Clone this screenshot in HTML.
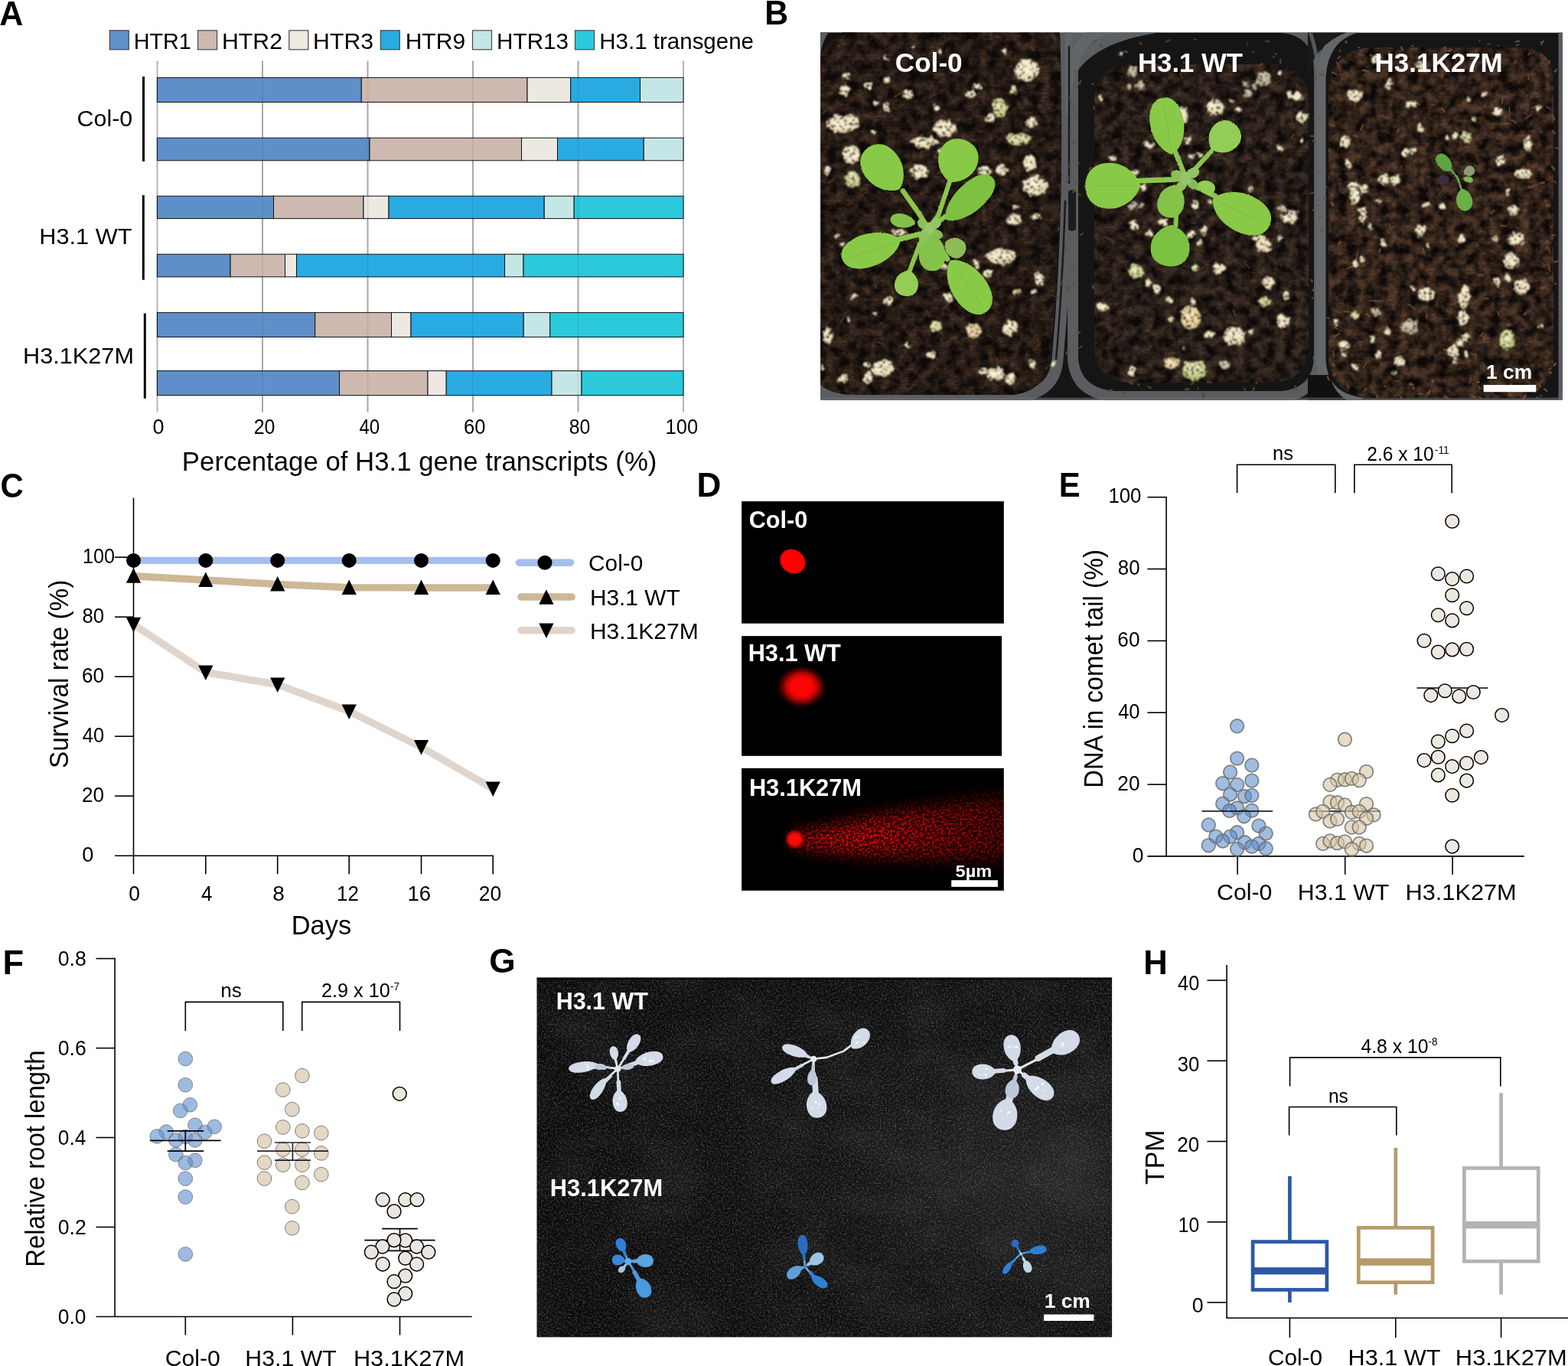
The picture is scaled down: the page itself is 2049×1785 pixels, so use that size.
<!DOCTYPE html>
<html lang="en">
<head>
<meta charset="utf-8">
<title>Figure: H3.1K27M expression, survival, comet assay, root length, staining and TPM</title>
<style>
html,body{margin:0;padding:0;background:#fff;}
body{width:2049px;height:1785px;overflow:hidden;}
svg{display:block;font-family:"Liberation Sans", "Helvetica", "Arial", sans-serif;}
text{font-kerning:normal;}
</style>
</head>
<body>
<svg width="2049" height="1785" viewBox="0 0 2049 1785" role="img" aria-label="Eight-panel figure A to H">
<rect width="2049" height="1785" fill="#fff"/>
<g id="panelA">
<text x="-0.67" y="32.70" font-size="44.3" textLength="31.09" lengthAdjust="spacingAndGlyphs" font-weight="bold">A</text>
<rect x="143.3" y="39.8" width="25.0" height="25.0" fill="#5f8fc9" stroke="#484848" stroke-width="1.2"/>
<text x="174.65" y="63.70" font-size="30.0" textLength="75.11" lengthAdjust="spacingAndGlyphs">HTR1</text>
<rect x="258.6" y="39.8" width="25.0" height="25.0" fill="#cdb9b0" stroke="#484848" stroke-width="1.2"/>
<text x="290.04" y="63.70" font-size="30.0" textLength="78.99" lengthAdjust="spacingAndGlyphs">HTR2</text>
<rect x="377.8" y="39.8" width="25.0" height="25.0" fill="#ede8e2" stroke="#484848" stroke-width="1.2"/>
<text x="409.14" y="63.70" font-size="30.0" textLength="78.88" lengthAdjust="spacingAndGlyphs">HTR3</text>
<rect x="497.3" y="39.8" width="25.0" height="25.0" fill="#29abe2" stroke="#484848" stroke-width="1.2"/>
<text x="529.65" y="63.70" font-size="30.0" textLength="78.57" lengthAdjust="spacingAndGlyphs">HTR9</text>
<rect x="617.5" y="39.8" width="25.0" height="25.0" fill="#c5e6e6" stroke="#484848" stroke-width="1.2"/>
<text x="649.08" y="63.70" font-size="30.0" textLength="94.02" lengthAdjust="spacingAndGlyphs">HTR13</text>
<rect x="751.5" y="39.8" width="25.0" height="25.0" fill="#2cc8dc" stroke="#484848" stroke-width="1.2"/>
<text x="783.30" y="63.70" font-size="30.0" textLength="201.70" lengthAdjust="spacingAndGlyphs">H3.1 transgene</text>
<line x1="205.5" y1="79.5" x2="205.5" y2="538.7" stroke="#b4b4b4" stroke-width="2"/>
<line x1="343.0" y1="79.5" x2="343.0" y2="538.7" stroke="#b4b4b4" stroke-width="2"/>
<line x1="480.5" y1="79.5" x2="480.5" y2="538.7" stroke="#b4b4b4" stroke-width="2"/>
<line x1="618.0" y1="79.5" x2="618.0" y2="538.7" stroke="#b4b4b4" stroke-width="2"/>
<line x1="755.5" y1="79.5" x2="755.5" y2="538.7" stroke="#b4b4b4" stroke-width="2"/>
<line x1="893.0" y1="79.5" x2="893.0" y2="538.7" stroke="#b4b4b4" stroke-width="2"/>
<rect x="205.5" y="101.4" width="266.8" height="32.1" fill="#5f8fc9" stroke="#111" stroke-width="1"/>
<rect x="472.3" y="101.4" width="216.7" height="32.1" fill="#cdb9b0" stroke="#111" stroke-width="1"/>
<rect x="689.0" y="101.4" width="56.7" height="32.1" fill="#ede8e2" stroke="#111" stroke-width="1"/>
<rect x="745.7" y="101.4" width="90.8" height="32.1" fill="#29abe2" stroke="#111" stroke-width="1"/>
<rect x="836.5" y="101.4" width="56.5" height="32.1" fill="#c5e6e6" stroke="#111" stroke-width="1"/>
<rect x="205.5" y="180.2" width="277.5" height="29.6" fill="#5f8fc9" stroke="#111" stroke-width="1"/>
<rect x="483.0" y="180.2" width="198.5" height="29.6" fill="#cdb9b0" stroke="#111" stroke-width="1"/>
<rect x="681.5" y="180.2" width="47.0" height="29.6" fill="#ede8e2" stroke="#111" stroke-width="1"/>
<rect x="728.5" y="180.2" width="112.7" height="29.6" fill="#29abe2" stroke="#111" stroke-width="1"/>
<rect x="841.2" y="180.2" width="51.8" height="29.6" fill="#c5e6e6" stroke="#111" stroke-width="1"/>
<rect x="205.5" y="256.2" width="152.0" height="29.4" fill="#5f8fc9" stroke="#111" stroke-width="1"/>
<rect x="357.5" y="256.2" width="117.5" height="29.4" fill="#cdb9b0" stroke="#111" stroke-width="1"/>
<rect x="475.0" y="256.2" width="33.0" height="29.4" fill="#ede8e2" stroke="#111" stroke-width="1"/>
<rect x="508.0" y="256.2" width="203.2" height="29.4" fill="#29abe2" stroke="#111" stroke-width="1"/>
<rect x="711.2" y="256.2" width="39.0" height="29.4" fill="#c5e6e6" stroke="#111" stroke-width="1"/>
<rect x="750.2" y="256.2" width="142.8" height="29.4" fill="#2cc8dc" stroke="#111" stroke-width="1"/>
<rect x="205.5" y="332.2" width="95.5" height="29.6" fill="#5f8fc9" stroke="#111" stroke-width="1"/>
<rect x="301.0" y="332.2" width="71.5" height="29.6" fill="#cdb9b0" stroke="#111" stroke-width="1"/>
<rect x="372.5" y="332.2" width="15.0" height="29.6" fill="#ede8e2" stroke="#111" stroke-width="1"/>
<rect x="387.5" y="332.2" width="272.0" height="29.6" fill="#29abe2" stroke="#111" stroke-width="1"/>
<rect x="659.5" y="332.2" width="24.5" height="29.6" fill="#c5e6e6" stroke="#111" stroke-width="1"/>
<rect x="684.0" y="332.2" width="209.0" height="29.6" fill="#2cc8dc" stroke="#111" stroke-width="1"/>
<rect x="205.5" y="408.4" width="206.2" height="32.0" fill="#5f8fc9" stroke="#111" stroke-width="1"/>
<rect x="411.7" y="408.4" width="99.8" height="32.0" fill="#cdb9b0" stroke="#111" stroke-width="1"/>
<rect x="511.5" y="408.4" width="25.5" height="32.0" fill="#ede8e2" stroke="#111" stroke-width="1"/>
<rect x="537.0" y="408.4" width="147.2" height="32.0" fill="#29abe2" stroke="#111" stroke-width="1"/>
<rect x="684.2" y="408.4" width="34.5" height="32.0" fill="#c5e6e6" stroke="#111" stroke-width="1"/>
<rect x="718.7" y="408.4" width="174.3" height="32.0" fill="#2cc8dc" stroke="#111" stroke-width="1"/>
<rect x="205.5" y="484.6" width="238.0" height="32.0" fill="#5f8fc9" stroke="#111" stroke-width="1"/>
<rect x="443.5" y="484.6" width="115.5" height="32.0" fill="#cdb9b0" stroke="#111" stroke-width="1"/>
<rect x="559.0" y="484.6" width="24.2" height="32.0" fill="#ede8e2" stroke="#111" stroke-width="1"/>
<rect x="583.2" y="484.6" width="137.8" height="32.0" fill="#29abe2" stroke="#111" stroke-width="1"/>
<rect x="721.0" y="484.6" width="39.0" height="32.0" fill="#c5e6e6" stroke="#111" stroke-width="1"/>
<rect x="760.0" y="484.6" width="133.0" height="32.0" fill="#2cc8dc" stroke="#111" stroke-width="1"/>
<line x1="343.0" y1="79.5" x2="343.0" y2="538.7" stroke="#000" stroke-width="2" opacity="0.06"/>
<line x1="480.5" y1="79.5" x2="480.5" y2="538.7" stroke="#000" stroke-width="2" opacity="0.06"/>
<line x1="618.0" y1="79.5" x2="618.0" y2="538.7" stroke="#000" stroke-width="2" opacity="0.06"/>
<line x1="755.5" y1="79.5" x2="755.5" y2="538.7" stroke="#000" stroke-width="2" opacity="0.06"/>
<line x1="187.5" y1="100.0" x2="187.5" y2="211.0" stroke="#000" stroke-width="3"/>
<line x1="187.3" y1="255.0" x2="187.3" y2="365.7" stroke="#000" stroke-width="3"/>
<line x1="189.3" y1="409.5" x2="189.3" y2="520.7" stroke="#000" stroke-width="3"/>
<text x="100.58" y="165.40" font-size="30.0" textLength="72.58" lengthAdjust="spacingAndGlyphs">Col-0</text>
<text x="51.30" y="319.20" font-size="30.0" textLength="121.12" lengthAdjust="spacingAndGlyphs">H3.1 WT</text>
<text x="30.10" y="475.00" font-size="30.0" textLength="144.86" lengthAdjust="spacingAndGlyphs">H3.1K27M</text>
<text x="199.56" y="567.30" font-size="27.0" textLength="15.02" lengthAdjust="spacingAndGlyphs">0</text>
<text x="331.63" y="567.30" font-size="27.0" textLength="27.79" lengthAdjust="spacingAndGlyphs">20</text>
<text x="469.42" y="567.30" font-size="27.0" textLength="26.78" lengthAdjust="spacingAndGlyphs">40</text>
<text x="606.10" y="567.30" font-size="27.0" textLength="28.43" lengthAdjust="spacingAndGlyphs">60</text>
<text x="743.82" y="567.30" font-size="27.0" textLength="27.59" lengthAdjust="spacingAndGlyphs">80</text>
<text x="869.61" y="567.30" font-size="27.0" textLength="42.42" lengthAdjust="spacingAndGlyphs">100</text>
<text x="237.88" y="614.90" font-size="34.3" textLength="620.52" lengthAdjust="spacingAndGlyphs">Percentage of H3.1 gene transcripts (%)</text>
</g>
<g id="panelB">
<text x="999.33" y="32.00" font-size="44.3" textLength="30.85" lengthAdjust="spacingAndGlyphs" font-weight="bold">B</text>
<defs>
<clipPath id="clipB"><rect x="1072.3" y="42.4" width="969.5" height="480.4"/></clipPath>
<clipPath id="soil1"><path d="M1116 34H1384Q1388 150 1386 250Q1382 360 1372 470Q1366 512 1322 516H1110Q1076 514 1060 490V98Q1076 52 1116 34Z"/></clipPath>
<clipPath id="soil2"><path d="M1478 84H1662Q1708 86 1710 132V452Q1708 498 1662 500H1478Q1432 498 1430 452V132Q1432 86 1478 84Z"/></clipPath>
<clipPath id="soil3"><path d="M1790 62H1990Q2028 64 2030 104V470Q2026 514 1986 520H1790Q1742 516 1736 470V120Q1740 66 1790 62Z"/></clipPath>
<filter id="fSoilD" x="0" y="0" width="100%" height="100%" filterUnits="objectBoundingBox" color-interpolation-filters="sRGB"><feTurbulence type="fractalNoise" baseFrequency="0.075" numOctaves="4" seed="11"/><feColorMatrix type="matrix" values="0 0 0 0 0.05  0 0 0 0 0.035  0 0 0 0 0.03  2.2 0 0 0 -0.62"/></filter>
<filter id="fSoilL" x="0" y="0" width="100%" height="100%" filterUnits="objectBoundingBox" color-interpolation-filters="sRGB"><feTurbulence type="turbulence" baseFrequency="0.11 0.2" numOctaves="3" seed="5"/><feColorMatrix type="matrix" values="0 0 0 0 0.36  0 0 0 0 0.25  0 0 0 0 0.18  0 3.0 0 0 -0.5"/></filter>
<filter id="fSpeck" x="0" y="0" width="100%" height="100%" filterUnits="objectBoundingBox" color-interpolation-filters="sRGB"><feTurbulence type="fractalNoise" baseFrequency="0.45" numOctaves="2" seed="23"/><feColorMatrix type="matrix" values="0 0 0 0 0.85  0 0 0 0 0.8  0 0 0 0 0.7  0 0 7 0 -4.9"/></filter>
<filter id="fRough" x="-5%" y="-5%" width="110%" height="110%" color-interpolation-filters="sRGB"><feTurbulence type="fractalNoise" baseFrequency="0.13" numOctaves="3" seed="4" result="t"/><feDisplacementMap in="SourceGraphic" in2="t" scale="9" xChannelSelector="R" yChannelSelector="G" result="d"/><feTurbulence type="fractalNoise" baseFrequency="0.28" numOctaves="3" seed="12" result="t2"/><feColorMatrix in="t2" type="matrix" values="0 0 0 0 0.2  0 0 0 0 0.14  0 0 0 0 0.1  0 5.5 0 0 -2.95" result="dirt"/><feComposite in="dirt" in2="d" operator="atop" result="dd"/><feGaussianBlur in="dd" stdDeviation="0.8"/></filter>
<filter id="fLeaf" x="-5%" y="-5%" width="110%" height="110%" color-interpolation-filters="sRGB"><feTurbulence type="fractalNoise" baseFrequency="0.5" numOctaves="1" seed="9" result="t"/><feDisplacementMap in="SourceGraphic" in2="t" scale="2.2" xChannelSelector="R" yChannelSelector="G" result="d"/><feGaussianBlur in="d" stdDeviation="0.45"/></filter>
<filter id="fBlur2"><feGaussianBlur stdDeviation="2"/></filter>
<filter id="fBlur5"><feGaussianBlur stdDeviation="5"/></filter>
<radialGradient id="gPer" cx="0.45" cy="0.4" r="0.65"><stop offset="0" stop-color="#fcf7dc"/><stop offset="0.7" stop-color="#f1e7c4"/><stop offset="1" stop-color="#cdbd96"/></radialGradient>
<radialGradient id="gPerG" cx="0.45" cy="0.4" r="0.65"><stop offset="0" stop-color="#eef0c4"/><stop offset="0.7" stop-color="#d3dc98"/><stop offset="1" stop-color="#a9b272"/></radialGradient>
<radialGradient id="gPerY" cx="0.45" cy="0.4" r="0.65"><stop offset="0" stop-color="#f8ebc6"/><stop offset="0.7" stop-color="#efd7a0"/><stop offset="1" stop-color="#c9a66c"/></radialGradient>
<radialGradient id="gPerD" cx="0.45" cy="0.4" r="0.65"><stop offset="0" stop-color="#d9d2bd"/><stop offset="0.7" stop-color="#bdb49a"/><stop offset="1" stop-color="#8c8470"/></radialGradient>
<linearGradient id="gLeaf" x1="0" y1="0" x2="1" y2="1"><stop offset="0" stop-color="#8fd04c"/><stop offset="1" stop-color="#74b93c"/></linearGradient>
</defs>
<g clip-path="url(#clipB)">
<rect x="1072.3" y="42.4" width="969.5" height="480.4" fill="#151515"/>
<path d="M1040 518H1330Q1378 514 1382 470Q1392 360 1394 250Q1396 150 1392 20" fill="none" stroke="#5a5c5f" stroke-width="15"/>
<path d="M1072 42H1112Q1084 50 1078 74Q1074 86 1072 100Z" fill="#141210" id="pot1corner"/>
<path d="M1072 42H1083Q1075 52 1072 72Z" fill="#5a5c5f"/>
<path d="M1072 492Q1078 512 1104 522H1072Z" fill="#5a5c5f"/>
<path d="M1462 36H1676Q1722 40 1724 92V470Q1720 514 1676 518H1456Q1406 514 1402 470V96Q1404 40 1462 36Z" fill="none" stroke="#5a5c5f" stroke-width="14"/>
<path d="M1392 42H1520Q1440 52 1410 90Q1398 110 1396 150L1392 150Z" fill="#64676a" opacity="0.9"/>
<path d="M1396 250Q1402 246 1406 250V300Q1400 304 1396 300Z" fill="#1c1c1c"/>
<path d="M1397 60V240M1392 262Q1388 380 1380 470" fill="none" stroke="#1b1b1b" stroke-width="2.5"/>
<path d="M1990 34H1786Q1730 40 1726 100V470Q1728 520 1780 526" fill="none" stroke="#64676a" stroke-width="13"/>
<path d="M1709 100Q1716 60 1760 42H1709Z" fill="#1a1a1a"/>
<path d="M1712 42Q1722 70 1724 110" fill="none" stroke="#64676a" stroke-width="5" opacity="0.8"/>
<rect x="2036.5" y="42" width="6" height="481" fill="#5a5c5f"/>
<path d="M1709 490H1738Q1742 512 1760 523H1709Z" fill="#101010"/>
<rect x="1072.3" y="519.5" width="969.5" height="4" fill="#6d6f72" opacity="0.55"/>
<g clip-path="url(#soil1)">
<rect x="1060" y="30" width="335" height="500" fill="#30241c"/>
<rect x="1060" y="30" width="335" height="500" filter="url(#fSoilL)" opacity="0.5"/>
<rect x="1060" y="30" width="335" height="500" filter="url(#fSoilD)"/>
<rect x="1060" y="30" width="335" height="500" filter="url(#fSpeck)" opacity="0.12"/>
</g>
<g clip-path="url(#soil2)">
<rect x="1425" y="30" width="290" height="500" fill="#352a23"/>
<rect x="1425" y="30" width="290" height="500" filter="url(#fSoilL)" opacity="0.5"/>
<rect x="1425" y="30" width="290" height="500" filter="url(#fSoilD)"/>
<rect x="1425" y="30" width="290" height="500" filter="url(#fSpeck)" opacity="0.12"/>
</g>
<g clip-path="url(#soil3)">
<rect x="1730" y="30" width="305" height="500" fill="#453125"/>
<rect x="1730" y="30" width="305" height="500" filter="url(#fSoilL)" opacity="0.85"/>
<rect x="1730" y="30" width="305" height="500" filter="url(#fSoilD)"/>
<rect x="1730" y="30" width="305" height="500" filter="url(#fSpeck)" opacity="0.12"/>
</g>
<g opacity="0.85" filter="url(#fLeaf)"><line x1="1406.3" y1="151.8" x2="1405.5" y2="153.4" stroke="#6a4a33" stroke-width="2.3" stroke-linecap="round"/><line x1="1407.8" y1="113.8" x2="1407.8" y2="115.4" stroke="#6a4a33" stroke-width="2.1" stroke-linecap="round"/><line x1="1397.4" y1="127.2" x2="1398.5" y2="131.5" stroke="#6a4a33" stroke-width="1.6" stroke-linecap="round"/><line x1="1402.8" y1="347.2" x2="1399.3" y2="347.8" stroke="#6a4a33" stroke-width="2.0" stroke-linecap="round"/><line x1="1429.2" y1="109.1" x2="1426.9" y2="110.2" stroke="#6a4a33" stroke-width="1.6" stroke-linecap="round"/><line x1="1399.1" y1="216.5" x2="1397.3" y2="217.6" stroke="#6a4a33" stroke-width="2.3" stroke-linecap="round"/><line x1="1417.4" y1="242.7" x2="1417.1" y2="244.4" stroke="#6a4a33" stroke-width="1.5" stroke-linecap="round"/><line x1="1402.2" y1="369.0" x2="1402.8" y2="371.5" stroke="#6a4a33" stroke-width="2.3" stroke-linecap="round"/><line x1="1410.9" y1="212.9" x2="1407.7" y2="215.3" stroke="#6a4a33" stroke-width="1.8" stroke-linecap="round"/><line x1="1415.1" y1="305.3" x2="1411.4" y2="306.9" stroke="#6a4a33" stroke-width="1.9" stroke-linecap="round"/><line x1="1429.3" y1="138.4" x2="1430.4" y2="142.4" stroke="#6a4a33" stroke-width="1.6" stroke-linecap="round"/><line x1="1412.1" y1="106.1" x2="1410.0" y2="109.7" stroke="#6a4a33" stroke-width="2.3" stroke-linecap="round"/><line x1="1425.6" y1="218.6" x2="1423.6" y2="221.6" stroke="#6a4a33" stroke-width="2.3" stroke-linecap="round"/><line x1="1411.0" y1="434.4" x2="1407.9" y2="434.9" stroke="#6a4a33" stroke-width="2.5" stroke-linecap="round"/><line x1="1397.1" y1="377.6" x2="1394.9" y2="382.1" stroke="#6a4a33" stroke-width="2.7" stroke-linecap="round"/><line x1="1405.0" y1="248.2" x2="1404.2" y2="249.5" stroke="#6a4a33" stroke-width="2.1" stroke-linecap="round"/><line x1="1400.9" y1="138.0" x2="1405.0" y2="138.8" stroke="#6a4a33" stroke-width="1.6" stroke-linecap="round"/><line x1="1403.7" y1="250.3" x2="1402.0" y2="251.0" stroke="#6a4a33" stroke-width="2.1" stroke-linecap="round"/><line x1="1414.2" y1="452.2" x2="1410.4" y2="454.6" stroke="#6a4a33" stroke-width="1.8" stroke-linecap="round"/><line x1="1409.5" y1="237.1" x2="1405.0" y2="238.8" stroke="#6a4a33" stroke-width="1.6" stroke-linecap="round"/><line x1="1401.2" y1="185.1" x2="1403.5" y2="187.2" stroke="#6a4a33" stroke-width="2.3" stroke-linecap="round"/><line x1="1404.2" y1="91.7" x2="1404.9" y2="94.4" stroke="#6a4a33" stroke-width="2.3" stroke-linecap="round"/><line x1="1428.4" y1="373.1" x2="1428.2" y2="376.8" stroke="#6a4a33" stroke-width="2.5" stroke-linecap="round"/><line x1="1396.9" y1="458.8" x2="1393.4" y2="461.7" stroke="#6a4a33" stroke-width="2.7" stroke-linecap="round"/><line x1="1408.7" y1="253.6" x2="1412.3" y2="254.8" stroke="#6a4a33" stroke-width="1.5" stroke-linecap="round"/><line x1="1397.4" y1="175.6" x2="1399.7" y2="176.9" stroke="#6a4a33" stroke-width="1.5" stroke-linecap="round"/><line x1="1430.1" y1="53.4" x2="1432.7" y2="54.3" stroke="#5e412d" stroke-width="1.4" stroke-linecap="round"/><line x1="1666.1" y1="70.1" x2="1668.2" y2="71.2" stroke="#5e412d" stroke-width="2.0" stroke-linecap="round"/><line x1="1528.3" y1="52.4" x2="1523.9" y2="54.7" stroke="#5e412d" stroke-width="2.1" stroke-linecap="round"/><line x1="1560.6" y1="51.1" x2="1563.2" y2="51.9" stroke="#5e412d" stroke-width="1.8" stroke-linecap="round"/><line x1="1653.8" y1="53.8" x2="1658.6" y2="54.2" stroke="#5e412d" stroke-width="2.2" stroke-linecap="round"/><line x1="1469.6" y1="67.6" x2="1472.9" y2="67.8" stroke="#5e412d" stroke-width="3.0" stroke-linecap="round"/><line x1="1663.1" y1="73.1" x2="1665.0" y2="75.1" stroke="#5e412d" stroke-width="1.7" stroke-linecap="round"/><line x1="1638.4" y1="67.2" x2="1636.4" y2="68.9" stroke="#5e412d" stroke-width="1.8" stroke-linecap="round"/><line x1="1649.1" y1="83.5" x2="1645.2" y2="85.4" stroke="#5e412d" stroke-width="2.7" stroke-linecap="round"/><line x1="1629.8" y1="56.2" x2="1629.6" y2="58.9" stroke="#5e412d" stroke-width="1.4" stroke-linecap="round"/><line x1="1437.5" y1="58.1" x2="1440.2" y2="60.9" stroke="#5e412d" stroke-width="2.9" stroke-linecap="round"/><line x1="1550.8" y1="81.7" x2="1545.9" y2="81.9" stroke="#5e412d" stroke-width="2.0" stroke-linecap="round"/><line x1="1489.5" y1="56.2" x2="1491.3" y2="57.4" stroke="#5e412d" stroke-width="2.4" stroke-linecap="round"/><line x1="1673.1" y1="78.3" x2="1673.3" y2="82.0" stroke="#5e412d" stroke-width="2.7" stroke-linecap="round"/><line x1="1452.9" y1="509.6" x2="1448.8" y2="510.7" stroke="#5e412d" stroke-width="2.6" stroke-linecap="round"/><line x1="1559.1" y1="500.4" x2="1557.0" y2="502.0" stroke="#5e412d" stroke-width="2.7" stroke-linecap="round"/><line x1="1692.3" y1="504.5" x2="1693.8" y2="509.1" stroke="#5e412d" stroke-width="2.6" stroke-linecap="round"/><line x1="1475.9" y1="499.4" x2="1480.1" y2="501.5" stroke="#5e412d" stroke-width="2.7" stroke-linecap="round"/><line x1="1469.5" y1="512.7" x2="1465.7" y2="512.9" stroke="#5e412d" stroke-width="2.0" stroke-linecap="round"/><line x1="1578.1" y1="499.5" x2="1583.0" y2="499.7" stroke="#5e412d" stroke-width="2.4" stroke-linecap="round"/><line x1="1572.2" y1="514.7" x2="1573.1" y2="519.2" stroke="#5e412d" stroke-width="2.7" stroke-linecap="round"/><line x1="1487.0" y1="501.8" x2="1488.4" y2="503.6" stroke="#5e412d" stroke-width="2.3" stroke-linecap="round"/><line x1="1500.0" y1="505.0" x2="1504.3" y2="506.8" stroke="#5e412d" stroke-width="2.0" stroke-linecap="round"/><line x1="1553.7" y1="508.1" x2="1550.9" y2="509.0" stroke="#5e412d" stroke-width="2.9" stroke-linecap="round"/><line x1="1565.4" y1="507.1" x2="1565.3" y2="508.7" stroke="#5e412d" stroke-width="2.1" stroke-linecap="round"/><line x1="1479.4" y1="497.1" x2="1477.7" y2="498.3" stroke="#5e412d" stroke-width="2.2" stroke-linecap="round"/><line x1="1625.8" y1="507.6" x2="1627.5" y2="510.4" stroke="#5e412d" stroke-width="2.3" stroke-linecap="round"/><line x1="1641.8" y1="499.0" x2="1641.3" y2="501.3" stroke="#5e412d" stroke-width="1.8" stroke-linecap="round"/><line x1="1638.5" y1="506.6" x2="1637.7" y2="510.7" stroke="#5e412d" stroke-width="2.9" stroke-linecap="round"/><line x1="1549.7" y1="508.6" x2="1549.6" y2="511.9" stroke="#5e412d" stroke-width="2.5" stroke-linecap="round"/><line x1="1726.9" y1="299.3" x2="1727.3" y2="304.1" stroke="#6f4e36" stroke-width="2.5" stroke-linecap="round"/><line x1="1740.9" y1="475.1" x2="1743.3" y2="477.7" stroke="#6f4e36" stroke-width="2.9" stroke-linecap="round"/><line x1="1739.7" y1="129.0" x2="1742.5" y2="130.1" stroke="#6f4e36" stroke-width="1.5" stroke-linecap="round"/><line x1="1719.9" y1="101.4" x2="1717.8" y2="105.1" stroke="#6f4e36" stroke-width="2.8" stroke-linecap="round"/><line x1="1717.1" y1="377.9" x2="1716.1" y2="379.7" stroke="#6f4e36" stroke-width="2.8" stroke-linecap="round"/><line x1="1743.9" y1="164.4" x2="1741.1" y2="164.9" stroke="#6f4e36" stroke-width="2.2" stroke-linecap="round"/><line x1="1744.7" y1="428.0" x2="1747.3" y2="429.4" stroke="#6f4e36" stroke-width="2.2" stroke-linecap="round"/><line x1="1723.2" y1="154.2" x2="1725.4" y2="157.6" stroke="#6f4e36" stroke-width="1.4" stroke-linecap="round"/><line x1="1730.3" y1="259.4" x2="1732.9" y2="259.5" stroke="#6f4e36" stroke-width="2.4" stroke-linecap="round"/><line x1="1728.9" y1="97.6" x2="1724.7" y2="97.8" stroke="#6f4e36" stroke-width="3.0" stroke-linecap="round"/><line x1="1715.5" y1="184.2" x2="1719.7" y2="184.7" stroke="#6f4e36" stroke-width="1.8" stroke-linecap="round"/><line x1="1716.3" y1="251.6" x2="1712.1" y2="252.8" stroke="#6f4e36" stroke-width="1.8" stroke-linecap="round"/><line x1="1716.9" y1="465.2" x2="1716.1" y2="469.1" stroke="#6f4e36" stroke-width="1.5" stroke-linecap="round"/><line x1="1713.9" y1="365.9" x2="1714.3" y2="367.6" stroke="#6f4e36" stroke-width="2.9" stroke-linecap="round"/><line x1="1732.9" y1="414.7" x2="1737.3" y2="415.9" stroke="#6f4e36" stroke-width="1.5" stroke-linecap="round"/><line x1="1740.5" y1="265.1" x2="1742.1" y2="268.1" stroke="#6f4e36" stroke-width="2.9" stroke-linecap="round"/><line x1="1720.8" y1="125.6" x2="1720.6" y2="127.9" stroke="#6f4e36" stroke-width="1.6" stroke-linecap="round"/><line x1="1717.3" y1="91.7" x2="1719.4" y2="93.2" stroke="#6f4e36" stroke-width="1.9" stroke-linecap="round"/><line x1="1737.1" y1="194.7" x2="1737.1" y2="196.8" stroke="#6f4e36" stroke-width="2.0" stroke-linecap="round"/><line x1="1712.6" y1="177.7" x2="1716.7" y2="177.9" stroke="#6f4e36" stroke-width="2.3" stroke-linecap="round"/><line x1="1718.3" y1="274.1" x2="1716.4" y2="274.5" stroke="#6f4e36" stroke-width="2.7" stroke-linecap="round"/><line x1="1726.3" y1="282.9" x2="1723.8" y2="284.3" stroke="#6f4e36" stroke-width="2.2" stroke-linecap="round"/><line x1="1734.7" y1="492.4" x2="1736.8" y2="496.3" stroke="#6f4e36" stroke-width="2.5" stroke-linecap="round"/><line x1="1733.0" y1="244.0" x2="1733.8" y2="245.5" stroke="#6f4e36" stroke-width="1.6" stroke-linecap="round"/><line x1="1714.3" y1="388.6" x2="1715.8" y2="390.1" stroke="#6f4e36" stroke-width="1.5" stroke-linecap="round"/><line x1="1739.8" y1="444.3" x2="1738.5" y2="446.5" stroke="#6f4e36" stroke-width="1.8" stroke-linecap="round"/><line x1="1721.7" y1="267.6" x2="1724.4" y2="269.0" stroke="#6f4e36" stroke-width="1.8" stroke-linecap="round"/><line x1="1743.7" y1="488.2" x2="1743.4" y2="490.6" stroke="#6f4e36" stroke-width="2.9" stroke-linecap="round"/><line x1="1722.2" y1="223.3" x2="1725.1" y2="223.3" stroke="#6f4e36" stroke-width="2.2" stroke-linecap="round"/><line x1="1728.6" y1="156.4" x2="1728.6" y2="157.9" stroke="#6f4e36" stroke-width="1.8" stroke-linecap="round"/><line x1="1775.1" y1="62.0" x2="1776.7" y2="62.2" stroke="#6f4e36" stroke-width="1.9" stroke-linecap="round"/><line x1="1815.2" y1="67.6" x2="1814.8" y2="71.7" stroke="#6f4e36" stroke-width="2.5" stroke-linecap="round"/><line x1="1950.5" y1="76.4" x2="1951.4" y2="78.9" stroke="#6f4e36" stroke-width="3.0" stroke-linecap="round"/><line x1="1791.8" y1="71.7" x2="1791.1" y2="73.2" stroke="#6f4e36" stroke-width="2.7" stroke-linecap="round"/><line x1="1999.7" y1="68.8" x2="1996.8" y2="72.0" stroke="#6f4e36" stroke-width="1.6" stroke-linecap="round"/><line x1="1896.7" y1="65.1" x2="1892.9" y2="67.3" stroke="#6f4e36" stroke-width="2.7" stroke-linecap="round"/><line x1="1913.5" y1="76.8" x2="1911.4" y2="80.1" stroke="#6f4e36" stroke-width="1.8" stroke-linecap="round"/><line x1="1758.7" y1="54.0" x2="1759.5" y2="55.7" stroke="#6f4e36" stroke-width="2.7" stroke-linecap="round"/><line x1="1906.4" y1="68.8" x2="1904.9" y2="72.4" stroke="#6f4e36" stroke-width="2.2" stroke-linecap="round"/><line x1="1750.9" y1="73.9" x2="1748.6" y2="76.2" stroke="#6f4e36" stroke-width="2.3" stroke-linecap="round"/><line x1="1934.6" y1="52.0" x2="1933.0" y2="53.7" stroke="#6f4e36" stroke-width="1.5" stroke-linecap="round"/><line x1="1824.4" y1="71.9" x2="1827.6" y2="74.3" stroke="#6f4e36" stroke-width="3.0" stroke-linecap="round"/><line x1="1888.3" y1="61.5" x2="1888.6" y2="65.4" stroke="#6f4e36" stroke-width="2.6" stroke-linecap="round"/><line x1="1922.8" y1="69.3" x2="1924.7" y2="69.8" stroke="#6f4e36" stroke-width="1.8" stroke-linecap="round"/><line x1="1958.1" y1="59.1" x2="1957.8" y2="60.6" stroke="#6f4e36" stroke-width="1.5" stroke-linecap="round"/><line x1="1825.3" y1="70.2" x2="1823.1" y2="73.3" stroke="#6f4e36" stroke-width="1.9" stroke-linecap="round"/><line x1="1894.6" y1="63.9" x2="1894.8" y2="65.8" stroke="#6f4e36" stroke-width="2.8" stroke-linecap="round"/><line x1="1805.8" y1="79.3" x2="1804.3" y2="79.7" stroke="#6f4e36" stroke-width="2.1" stroke-linecap="round"/><line x1="1979.6" y1="79.0" x2="1980.0" y2="81.5" stroke="#6f4e36" stroke-width="1.7" stroke-linecap="round"/><line x1="2014.8" y1="56.3" x2="2014.3" y2="58.3" stroke="#6f4e36" stroke-width="2.2" stroke-linecap="round"/><line x1="2016.8" y1="54.0" x2="2014.0" y2="55.7" stroke="#6f4e36" stroke-width="2.8" stroke-linecap="round"/><line x1="1946.9" y1="56.9" x2="1943.9" y2="58.0" stroke="#6f4e36" stroke-width="1.4" stroke-linecap="round"/><line x1="1751.0" y1="64.8" x2="1751.4" y2="67.3" stroke="#6f4e36" stroke-width="1.6" stroke-linecap="round"/><line x1="1846.3" y1="59.5" x2="1845.0" y2="60.2" stroke="#6f4e36" stroke-width="2.6" stroke-linecap="round"/><line x1="1985.0" y1="53.6" x2="1981.1" y2="54.5" stroke="#6f4e36" stroke-width="2.8" stroke-linecap="round"/><line x1="1831.2" y1="61.2" x2="1832.8" y2="65.9" stroke="#6f4e36" stroke-width="2.3" stroke-linecap="round"/><line x1="1851.0" y1="62.8" x2="1852.1" y2="64.1" stroke="#6f4e36" stroke-width="1.6" stroke-linecap="round"/><line x1="1983.7" y1="58.6" x2="1981.4" y2="59.0" stroke="#6f4e36" stroke-width="1.8" stroke-linecap="round"/><line x1="2029.2" y1="151.6" x2="2031.1" y2="156.1" stroke="#6f4e36" stroke-width="2.8" stroke-linecap="round"/><line x1="2035.9" y1="341.3" x2="2031.2" y2="342.6" stroke="#6f4e36" stroke-width="2.3" stroke-linecap="round"/><line x1="2033.8" y1="91.3" x2="2031.8" y2="93.6" stroke="#6f4e36" stroke-width="2.6" stroke-linecap="round"/><line x1="2032.2" y1="193.1" x2="2036.9" y2="193.8" stroke="#6f4e36" stroke-width="1.6" stroke-linecap="round"/><line x1="2028.4" y1="217.8" x2="2030.8" y2="221.1" stroke="#6f4e36" stroke-width="3.0" stroke-linecap="round"/><line x1="2023.7" y1="352.1" x2="2025.7" y2="354.9" stroke="#6f4e36" stroke-width="2.0" stroke-linecap="round"/><line x1="2021.7" y1="139.5" x2="2025.4" y2="142.4" stroke="#6f4e36" stroke-width="2.2" stroke-linecap="round"/><line x1="2022.8" y1="459.7" x2="2019.8" y2="459.7" stroke="#6f4e36" stroke-width="1.6" stroke-linecap="round"/><line x1="2022.2" y1="109.0" x2="2023.1" y2="110.6" stroke="#6f4e36" stroke-width="1.8" stroke-linecap="round"/><line x1="2023.7" y1="314.9" x2="2019.8" y2="316.4" stroke="#6f4e36" stroke-width="2.1" stroke-linecap="round"/><line x1="2027.1" y1="295.4" x2="2028.1" y2="297.9" stroke="#6f4e36" stroke-width="1.5" stroke-linecap="round"/><line x1="2024.1" y1="486.1" x2="2027.1" y2="487.4" stroke="#6f4e36" stroke-width="2.4" stroke-linecap="round"/><line x1="2037.0" y1="162.9" x2="2038.5" y2="164.6" stroke="#6f4e36" stroke-width="2.0" stroke-linecap="round"/><line x1="2027.8" y1="480.2" x2="2023.8" y2="482.3" stroke="#6f4e36" stroke-width="1.4" stroke-linecap="round"/><line x1="2018.7" y1="375.1" x2="2015.7" y2="376.1" stroke="#6f4e36" stroke-width="2.3" stroke-linecap="round"/><line x1="2018.0" y1="238.4" x2="2013.7" y2="239.4" stroke="#6f4e36" stroke-width="2.8" stroke-linecap="round"/><line x1="2039.4" y1="176.8" x2="2041.3" y2="177.5" stroke="#6f4e36" stroke-width="2.2" stroke-linecap="round"/><line x1="2033.0" y1="474.8" x2="2030.6" y2="477.7" stroke="#6f4e36" stroke-width="2.6" stroke-linecap="round"/><line x1="2028.1" y1="307.1" x2="2032.3" y2="307.7" stroke="#6f4e36" stroke-width="1.8" stroke-linecap="round"/><line x1="2038.2" y1="347.6" x2="2039.4" y2="349.2" stroke="#6f4e36" stroke-width="1.8" stroke-linecap="round"/><line x1="2032.0" y1="370.4" x2="2033.6" y2="371.0" stroke="#6f4e36" stroke-width="2.2" stroke-linecap="round"/><line x1="2030.8" y1="236.9" x2="2033.6" y2="239.2" stroke="#6f4e36" stroke-width="1.4" stroke-linecap="round"/><line x1="2024.6" y1="268.1" x2="2020.9" y2="268.6" stroke="#6f4e36" stroke-width="2.8" stroke-linecap="round"/><line x1="2028.5" y1="171.0" x2="2031.9" y2="174.4" stroke="#6f4e36" stroke-width="2.5" stroke-linecap="round"/><line x1="2024.8" y1="79.4" x2="2024.8" y2="83.2" stroke="#6f4e36" stroke-width="2.1" stroke-linecap="round"/><line x1="2023.7" y1="357.0" x2="2021.4" y2="357.5" stroke="#6f4e36" stroke-width="1.5" stroke-linecap="round"/><line x1="1847.9" y1="506.1" x2="1846.7" y2="507.9" stroke="#74523a" stroke-width="2.7" stroke-linecap="round"/><line x1="1952.2" y1="508.1" x2="1956.1" y2="511.1" stroke="#74523a" stroke-width="1.9" stroke-linecap="round"/><line x1="1973.2" y1="501.5" x2="1976.4" y2="504.2" stroke="#74523a" stroke-width="1.9" stroke-linecap="round"/><line x1="2007.5" y1="507.9" x2="2009.4" y2="509.2" stroke="#74523a" stroke-width="2.1" stroke-linecap="round"/><line x1="1933.0" y1="518.8" x2="1935.6" y2="520.0" stroke="#74523a" stroke-width="1.7" stroke-linecap="round"/><line x1="2013.3" y1="499.4" x2="2015.0" y2="499.7" stroke="#74523a" stroke-width="2.0" stroke-linecap="round"/><line x1="1993.5" y1="517.2" x2="1990.2" y2="520.9" stroke="#74523a" stroke-width="2.9" stroke-linecap="round"/><line x1="1845.6" y1="500.5" x2="1841.6" y2="501.3" stroke="#74523a" stroke-width="1.5" stroke-linecap="round"/><line x1="1932.8" y1="505.1" x2="1933.8" y2="507.5" stroke="#74523a" stroke-width="1.7" stroke-linecap="round"/><line x1="1760.7" y1="502.7" x2="1762.9" y2="507.0" stroke="#74523a" stroke-width="1.6" stroke-linecap="round"/><line x1="2010.7" y1="501.0" x2="2012.6" y2="504.9" stroke="#74523a" stroke-width="2.7" stroke-linecap="round"/><line x1="1872.4" y1="497.2" x2="1872.7" y2="500.0" stroke="#74523a" stroke-width="2.9" stroke-linecap="round"/><line x1="1810.2" y1="504.7" x2="1808.7" y2="505.3" stroke="#74523a" stroke-width="2.1" stroke-linecap="round"/><line x1="1971.1" y1="514.4" x2="1972.7" y2="514.6" stroke="#74523a" stroke-width="1.5" stroke-linecap="round"/><line x1="1999.2" y1="502.2" x2="1996.0" y2="505.5" stroke="#74523a" stroke-width="1.9" stroke-linecap="round"/><line x1="1830.8" y1="519.0" x2="1829.9" y2="521.2" stroke="#74523a" stroke-width="2.5" stroke-linecap="round"/><line x1="1842.3" y1="502.6" x2="1846.4" y2="502.7" stroke="#74523a" stroke-width="2.9" stroke-linecap="round"/><line x1="1924.8" y1="518.6" x2="1927.1" y2="518.8" stroke="#74523a" stroke-width="2.2" stroke-linecap="round"/><line x1="2008.8" y1="518.9" x2="2009.6" y2="521.1" stroke="#74523a" stroke-width="2.1" stroke-linecap="round"/><line x1="1888.3" y1="518.3" x2="1891.9" y2="520.6" stroke="#74523a" stroke-width="2.6" stroke-linecap="round"/><line x1="1973.9" y1="514.5" x2="1973.0" y2="517.0" stroke="#74523a" stroke-width="1.9" stroke-linecap="round"/><line x1="1854.1" y1="514.8" x2="1856.2" y2="515.3" stroke="#74523a" stroke-width="2.6" stroke-linecap="round"/><line x1="1824.3" y1="497.6" x2="1827.7" y2="497.9" stroke="#74523a" stroke-width="1.9" stroke-linecap="round"/><line x1="2014.9" y1="517.2" x2="2012.4" y2="517.3" stroke="#74523a" stroke-width="1.5" stroke-linecap="round"/><line x1="1785.1" y1="508.0" x2="1783.2" y2="510.4" stroke="#74523a" stroke-width="1.8" stroke-linecap="round"/><line x1="1868.4" y1="510.9" x2="1866.2" y2="514.4" stroke="#74523a" stroke-width="2.8" stroke-linecap="round"/><line x1="1932.8" y1="498.9" x2="1930.5" y2="500.1" stroke="#74523a" stroke-width="2.3" stroke-linecap="round"/><line x1="1857.0" y1="513.7" x2="1858.9" y2="515.1" stroke="#74523a" stroke-width="1.8" stroke-linecap="round"/><line x1="1799.9" y1="517.2" x2="1799.2" y2="519.8" stroke="#74523a" stroke-width="2.0" stroke-linecap="round"/><line x1="2018.0" y1="508.2" x2="2021.3" y2="511.1" stroke="#74523a" stroke-width="2.4" stroke-linecap="round"/><line x1="1395.9" y1="230.7" x2="1396.2" y2="235.1" stroke="#6a4a33" stroke-width="2.7" stroke-linecap="round"/><line x1="1395.0" y1="212.1" x2="1396.1" y2="213.6" stroke="#6a4a33" stroke-width="1.7" stroke-linecap="round"/><line x1="1395.7" y1="375.0" x2="1392.9" y2="375.6" stroke="#6a4a33" stroke-width="2.8" stroke-linecap="round"/><line x1="1389.4" y1="278.0" x2="1385.7" y2="281.1" stroke="#6a4a33" stroke-width="1.6" stroke-linecap="round"/><line x1="1391.2" y1="386.0" x2="1393.3" y2="387.7" stroke="#6a4a33" stroke-width="1.6" stroke-linecap="round"/><line x1="1386.4" y1="276.5" x2="1385.3" y2="280.1" stroke="#6a4a33" stroke-width="1.7" stroke-linecap="round"/><line x1="1384.1" y1="298.2" x2="1383.0" y2="300.0" stroke="#6a4a33" stroke-width="1.9" stroke-linecap="round"/><line x1="1386.4" y1="438.6" x2="1386.2" y2="440.3" stroke="#6a4a33" stroke-width="1.6" stroke-linecap="round"/><line x1="1388.7" y1="365.0" x2="1388.0" y2="366.7" stroke="#6a4a33" stroke-width="1.7" stroke-linecap="round"/><line x1="1392.3" y1="322.9" x2="1394.0" y2="324.9" stroke="#6a4a33" stroke-width="2.9" stroke-linecap="round"/><line x1="1387.7" y1="370.0" x2="1389.0" y2="372.6" stroke="#6a4a33" stroke-width="2.8" stroke-linecap="round"/><line x1="1396.0" y1="309.1" x2="1399.3" y2="311.5" stroke="#6a4a33" stroke-width="1.7" stroke-linecap="round"/><line x1="1741.7" y1="458.7" x2="1743.6" y2="466.4" stroke="#6b4a32" stroke-width="2.0" stroke-linecap="round"/><line x1="1991.6" y1="273.6" x2="1994.3" y2="275.1" stroke="#6b4a32" stroke-width="2.3" stroke-linecap="round"/><line x1="1922.6" y1="462.1" x2="1929.1" y2="464.0" stroke="#6b4a32" stroke-width="2.0" stroke-linecap="round"/><line x1="1883.8" y1="141.3" x2="1887.6" y2="146.0" stroke="#6b4a32" stroke-width="2.9" stroke-linecap="round"/><line x1="1771.0" y1="286.0" x2="1763.8" y2="291.1" stroke="#6b4a32" stroke-width="1.7" stroke-linecap="round"/><line x1="1776.1" y1="476.1" x2="1770.2" y2="476.5" stroke="#6b4a32" stroke-width="1.5" stroke-linecap="round"/><line x1="2004.0" y1="242.9" x2="1997.5" y2="244.9" stroke="#6b4a32" stroke-width="2.7" stroke-linecap="round"/><line x1="1785.7" y1="410.0" x2="1789.8" y2="413.5" stroke="#6b4a32" stroke-width="2.8" stroke-linecap="round"/><line x1="1976.3" y1="156.8" x2="1980.5" y2="160.3" stroke="#6b4a32" stroke-width="2.2" stroke-linecap="round"/><line x1="1849.3" y1="131.7" x2="1854.6" y2="136.8" stroke="#6b4a32" stroke-width="2.8" stroke-linecap="round"/><line x1="1751.7" y1="316.2" x2="1749.4" y2="318.4" stroke="#6b4a32" stroke-width="2.7" stroke-linecap="round"/><line x1="1773.6" y1="331.8" x2="1772.5" y2="338.5" stroke="#6b4a32" stroke-width="1.9" stroke-linecap="round"/><line x1="1859.7" y1="324.7" x2="1861.3" y2="331.5" stroke="#6b4a32" stroke-width="2.1" stroke-linecap="round"/><line x1="1864.9" y1="89.8" x2="1862.8" y2="95.3" stroke="#6b4a32" stroke-width="1.8" stroke-linecap="round"/><line x1="1957.6" y1="407.6" x2="1958.1" y2="411.6" stroke="#6b4a32" stroke-width="2.2" stroke-linecap="round"/><line x1="1770.5" y1="134.0" x2="1771.3" y2="137.4" stroke="#6b4a32" stroke-width="2.1" stroke-linecap="round"/><line x1="1885.4" y1="97.1" x2="1883.9" y2="100.3" stroke="#6b4a32" stroke-width="2.6" stroke-linecap="round"/><line x1="1961.6" y1="294.8" x2="1967.6" y2="295.8" stroke="#6b4a32" stroke-width="2.0" stroke-linecap="round"/><line x1="2011.0" y1="137.2" x2="2002.9" y2="141.1" stroke="#6b4a32" stroke-width="2.6" stroke-linecap="round"/><line x1="1972.3" y1="161.4" x2="1966.3" y2="161.7" stroke="#6b4a32" stroke-width="2.9" stroke-linecap="round"/><line x1="2001.1" y1="149.3" x2="1994.3" y2="154.6" stroke="#6b4a32" stroke-width="1.5" stroke-linecap="round"/><line x1="1840.0" y1="397.6" x2="1847.4" y2="401.6" stroke="#6b4a32" stroke-width="1.8" stroke-linecap="round"/><line x1="1972.5" y1="140.3" x2="1972.4" y2="148.8" stroke="#6b4a32" stroke-width="1.7" stroke-linecap="round"/><line x1="1814.9" y1="292.5" x2="1816.7" y2="295.2" stroke="#6b4a32" stroke-width="1.7" stroke-linecap="round"/><line x1="1786.0" y1="473.3" x2="1781.5" y2="480.4" stroke="#6b4a32" stroke-width="1.7" stroke-linecap="round"/><line x1="1963.7" y1="128.3" x2="1963.0" y2="135.1" stroke="#6b4a32" stroke-width="2.0" stroke-linecap="round"/><line x1="1988.8" y1="313.2" x2="1986.7" y2="321.2" stroke="#6b4a32" stroke-width="1.6" stroke-linecap="round"/><line x1="2023.0" y1="344.5" x2="2025.5" y2="351.9" stroke="#6b4a32" stroke-width="1.8" stroke-linecap="round"/><line x1="2022.3" y1="322.5" x2="2025.5" y2="329.4" stroke="#6b4a32" stroke-width="2.1" stroke-linecap="round"/><line x1="1790.4" y1="392.3" x2="1798.2" y2="393.5" stroke="#6b4a32" stroke-width="1.8" stroke-linecap="round"/><line x1="1922.2" y1="493.3" x2="1920.3" y2="500.0" stroke="#6b4a32" stroke-width="1.9" stroke-linecap="round"/><line x1="1740.5" y1="94.2" x2="1746.5" y2="97.2" stroke="#6b4a32" stroke-width="2.1" stroke-linecap="round"/><line x1="1886.1" y1="456.1" x2="1890.1" y2="457.9" stroke="#6b4a32" stroke-width="2.4" stroke-linecap="round"/><line x1="1746.4" y1="81.1" x2="1748.0" y2="84.4" stroke="#6b4a32" stroke-width="2.0" stroke-linecap="round"/><line x1="1803.9" y1="325.1" x2="1802.7" y2="329.2" stroke="#6b4a32" stroke-width="2.4" stroke-linecap="round"/><line x1="1875.3" y1="136.6" x2="1871.0" y2="137.5" stroke="#6b4a32" stroke-width="1.6" stroke-linecap="round"/><line x1="1767.3" y1="348.0" x2="1760.2" y2="351.1" stroke="#6b4a32" stroke-width="2.0" stroke-linecap="round"/><line x1="1815.3" y1="84.8" x2="1812.5" y2="90.6" stroke="#6b4a32" stroke-width="2.0" stroke-linecap="round"/><line x1="1924.0" y1="266.4" x2="1916.7" y2="267.8" stroke="#6b4a32" stroke-width="1.8" stroke-linecap="round"/><line x1="1997.5" y1="98.5" x2="1997.0" y2="103.9" stroke="#6b4a32" stroke-width="1.8" stroke-linecap="round"/><line x1="1756.6" y1="407.1" x2="1762.9" y2="407.4" stroke="#6b4a32" stroke-width="2.9" stroke-linecap="round"/><line x1="1780.5" y1="163.8" x2="1778.5" y2="169.5" stroke="#6b4a32" stroke-width="2.4" stroke-linecap="round"/><line x1="1971.8" y1="153.3" x2="1974.5" y2="157.3" stroke="#6b4a32" stroke-width="1.5" stroke-linecap="round"/><line x1="1993.5" y1="408.8" x2="1991.6" y2="411.2" stroke="#6b4a32" stroke-width="2.8" stroke-linecap="round"/><line x1="1952.4" y1="275.4" x2="1948.4" y2="279.6" stroke="#6b4a32" stroke-width="1.8" stroke-linecap="round"/><line x1="1770.0" y1="177.6" x2="1775.0" y2="178.2" stroke="#6b4a32" stroke-width="2.6" stroke-linecap="round"/><line x1="1938.1" y1="435.0" x2="1935.3" y2="438.7" stroke="#6b4a32" stroke-width="2.3" stroke-linecap="round"/><line x1="1864.3" y1="411.1" x2="1863.9" y2="415.7" stroke="#6b4a32" stroke-width="2.4" stroke-linecap="round"/><line x1="2015.1" y1="171.1" x2="2012.2" y2="172.3" stroke="#6b4a32" stroke-width="1.8" stroke-linecap="round"/><line x1="1807.3" y1="392.4" x2="1799.9" y2="393.7" stroke="#6b4a32" stroke-width="1.9" stroke-linecap="round"/><line x1="1990.8" y1="218.0" x2="1997.0" y2="223.8" stroke="#6b4a32" stroke-width="2.4" stroke-linecap="round"/><line x1="1937.5" y1="359.4" x2="1931.7" y2="359.8" stroke="#6b4a32" stroke-width="2.7" stroke-linecap="round"/><line x1="1938.8" y1="440.2" x2="1940.3" y2="447.4" stroke="#6b4a32" stroke-width="2.3" stroke-linecap="round"/><line x1="1827.7" y1="169.0" x2="1826.4" y2="172.2" stroke="#6b4a32" stroke-width="2.9" stroke-linecap="round"/><line x1="1781.2" y1="91.3" x2="1789.3" y2="94.1" stroke="#6b4a32" stroke-width="2.0" stroke-linecap="round"/><line x1="1780.4" y1="92.1" x2="1787.5" y2="93.0" stroke="#6b4a32" stroke-width="2.4" stroke-linecap="round"/><line x1="1938.6" y1="389.4" x2="1945.1" y2="390.8" stroke="#6b4a32" stroke-width="2.0" stroke-linecap="round"/><line x1="1973.0" y1="424.2" x2="1969.8" y2="425.4" stroke="#6b4a32" stroke-width="2.8" stroke-linecap="round"/><line x1="2000.6" y1="476.6" x2="2004.6" y2="478.0" stroke="#6b4a32" stroke-width="1.6" stroke-linecap="round"/><line x1="1749.8" y1="436.0" x2="1744.2" y2="439.8" stroke="#6b4a32" stroke-width="2.7" stroke-linecap="round"/><line x1="1269.5" y1="182.2" x2="1274.0" y2="183.7" stroke="#4d3525" stroke-width="2.6" stroke-linecap="round"/><line x1="1141.5" y1="196.8" x2="1142.5" y2="200.9" stroke="#4d3525" stroke-width="1.8" stroke-linecap="round"/><line x1="1164.8" y1="379.3" x2="1167.4" y2="385.3" stroke="#4d3525" stroke-width="2.9" stroke-linecap="round"/><line x1="1231.1" y1="441.6" x2="1229.6" y2="445.6" stroke="#4d3525" stroke-width="2.1" stroke-linecap="round"/><line x1="1210.9" y1="405.6" x2="1215.4" y2="414.1" stroke="#4d3525" stroke-width="2.3" stroke-linecap="round"/><line x1="1145.0" y1="446.6" x2="1155.1" y2="449.6" stroke="#4d3525" stroke-width="1.7" stroke-linecap="round"/><line x1="1080.4" y1="142.9" x2="1071.7" y2="151.0" stroke="#4d3525" stroke-width="1.4" stroke-linecap="round"/><line x1="1227.2" y1="276.1" x2="1222.8" y2="279.3" stroke="#4d3525" stroke-width="2.2" stroke-linecap="round"/><line x1="1184.2" y1="432.6" x2="1192.0" y2="441.1" stroke="#4d3525" stroke-width="1.9" stroke-linecap="round"/><line x1="1144.4" y1="371.8" x2="1144.4" y2="376.6" stroke="#4d3525" stroke-width="2.4" stroke-linecap="round"/><line x1="1104.3" y1="412.4" x2="1098.3" y2="420.8" stroke="#4d3525" stroke-width="2.4" stroke-linecap="round"/><line x1="1186.7" y1="234.6" x2="1190.3" y2="245.1" stroke="#4d3525" stroke-width="1.5" stroke-linecap="round"/><line x1="1346.5" y1="61.6" x2="1351.4" y2="65.3" stroke="#4d3525" stroke-width="2.8" stroke-linecap="round"/><line x1="1230.4" y1="224.5" x2="1224.9" y2="226.6" stroke="#4d3525" stroke-width="2.1" stroke-linecap="round"/><line x1="1239.5" y1="397.1" x2="1232.9" y2="403.5" stroke="#4d3525" stroke-width="2.0" stroke-linecap="round"/><line x1="1178.0" y1="121.5" x2="1169.8" y2="125.8" stroke="#4d3525" stroke-width="2.6" stroke-linecap="round"/><line x1="1130.9" y1="251.8" x2="1124.3" y2="257.5" stroke="#4d3525" stroke-width="1.6" stroke-linecap="round"/><line x1="1218.6" y1="457.2" x2="1222.7" y2="460.9" stroke="#4d3525" stroke-width="1.9" stroke-linecap="round"/><line x1="1290.9" y1="438.1" x2="1295.6" y2="440.5" stroke="#4d3525" stroke-width="1.8" stroke-linecap="round"/><line x1="1178.0" y1="290.2" x2="1183.8" y2="293.4" stroke="#4d3525" stroke-width="1.7" stroke-linecap="round"/><line x1="1372.5" y1="385.2" x2="1383.7" y2="388.9" stroke="#4d3525" stroke-width="1.6" stroke-linecap="round"/><line x1="1195.3" y1="502.6" x2="1187.4" y2="508.5" stroke="#4d3525" stroke-width="2.1" stroke-linecap="round"/><line x1="1138.9" y1="343.5" x2="1144.2" y2="345.3" stroke="#4d3525" stroke-width="2.0" stroke-linecap="round"/><line x1="1090.2" y1="233.5" x2="1082.6" y2="239.4" stroke="#4d3525" stroke-width="2.2" stroke-linecap="round"/><line x1="1269.7" y1="263.1" x2="1277.7" y2="266.9" stroke="#4d3525" stroke-width="2.0" stroke-linecap="round"/><line x1="1302.3" y1="467.7" x2="1304.2" y2="476.1" stroke="#4d3525" stroke-width="2.6" stroke-linecap="round"/><line x1="1548.7" y1="182.6" x2="1541.6" y2="191.0" stroke="#4d3525" stroke-width="2.6" stroke-linecap="round"/><line x1="1624.0" y1="435.2" x2="1619.1" y2="443.0" stroke="#4d3525" stroke-width="2.1" stroke-linecap="round"/><line x1="1519.5" y1="344.5" x2="1526.5" y2="346.7" stroke="#4d3525" stroke-width="2.7" stroke-linecap="round"/><line x1="1627.6" y1="345.0" x2="1632.8" y2="350.2" stroke="#4d3525" stroke-width="2.1" stroke-linecap="round"/><line x1="1602.8" y1="255.8" x2="1596.8" y2="265.5" stroke="#4d3525" stroke-width="1.7" stroke-linecap="round"/><line x1="1611.7" y1="405.2" x2="1614.4" y2="412.6" stroke="#4d3525" stroke-width="3.0" stroke-linecap="round"/><line x1="1445.3" y1="310.1" x2="1454.3" y2="315.0" stroke="#4d3525" stroke-width="2.9" stroke-linecap="round"/><line x1="1575.2" y1="130.9" x2="1573.3" y2="139.0" stroke="#4d3525" stroke-width="2.5" stroke-linecap="round"/><line x1="1573.3" y1="348.9" x2="1566.3" y2="353.1" stroke="#4d3525" stroke-width="2.1" stroke-linecap="round"/><line x1="1691.0" y1="175.1" x2="1687.0" y2="181.1" stroke="#4d3525" stroke-width="2.6" stroke-linecap="round"/><line x1="1468.0" y1="488.7" x2="1470.0" y2="492.7" stroke="#4d3525" stroke-width="1.8" stroke-linecap="round"/><line x1="1542.9" y1="95.4" x2="1544.8" y2="102.5" stroke="#4d3525" stroke-width="2.5" stroke-linecap="round"/><line x1="1530.1" y1="197.4" x2="1537.6" y2="203.8" stroke="#4d3525" stroke-width="2.9" stroke-linecap="round"/><line x1="1577.3" y1="178.7" x2="1571.5" y2="182.8" stroke="#4d3525" stroke-width="1.7" stroke-linecap="round"/><line x1="1469.9" y1="404.5" x2="1462.4" y2="409.6" stroke="#4d3525" stroke-width="2.2" stroke-linecap="round"/><line x1="1586.8" y1="181.5" x2="1580.0" y2="182.3" stroke="#4d3525" stroke-width="2.4" stroke-linecap="round"/><line x1="1656.1" y1="420.6" x2="1656.7" y2="426.9" stroke="#4d3525" stroke-width="2.3" stroke-linecap="round"/><line x1="1468.8" y1="427.7" x2="1473.6" y2="437.4" stroke="#4d3525" stroke-width="1.8" stroke-linecap="round"/><line x1="1536.6" y1="192.7" x2="1537.8" y2="198.0" stroke="#4d3525" stroke-width="1.4" stroke-linecap="round"/><line x1="1629.9" y1="203.9" x2="1634.5" y2="208.4" stroke="#4d3525" stroke-width="2.2" stroke-linecap="round"/></g>
<g filter="url(#fRough)"><ellipse cx="1106.0" cy="99.3" rx="4.7" ry="5.5" fill="url(#gPer)"/><ellipse cx="1103.5" cy="117.5" rx="7.1" ry="7.9" fill="url(#gPer)"/><ellipse cx="1135.9" cy="112.5" rx="5.5" ry="5.5" fill="url(#gPer)"/><ellipse cx="1158.3" cy="104.2" rx="6.3" ry="3.9" fill="url(#gPer)"/><ellipse cx="1186.5" cy="123.3" rx="7.1" ry="5.5" fill="url(#gPer)"/><ellipse cx="1159.1" cy="139.9" rx="4.7" ry="7.9" fill="url(#gPer)"/><ellipse cx="1145.0" cy="134.9" rx="3.9" ry="3.2" fill="url(#gPer)"/><ellipse cx="1101.9" cy="161.5" rx="21.3" ry="11.8" fill="url(#gPer)"/><ellipse cx="1112.7" cy="202.1" rx="11.8" ry="12.6" fill="url(#gPer)"/><ellipse cx="1082.0" cy="223.7" rx="3.9" ry="6.3" fill="url(#gPer)"/><ellipse cx="1141.7" cy="172.6" rx="3.2" ry="3.2" fill="url(#gPer)"/><ellipse cx="1234.6" cy="168.1" rx="14.2" ry="11.0" fill="url(#gPer)"/><ellipse cx="1208.1" cy="185.5" rx="17.3" ry="7.9" fill="url(#gPer)"/><ellipse cx="1223.0" cy="141.6" rx="4.7" ry="3.9" fill="url(#gPer)"/><ellipse cx="1268.6" cy="122.5" rx="6.3" ry="5.5" fill="url(#gPer)"/><ellipse cx="1277.8" cy="113.4" rx="6.3" ry="3.9" fill="url(#gPer)"/><ellipse cx="1342.5" cy="91.8" rx="15.8" ry="14.2" fill="url(#gPer)"/><ellipse cx="1294.4" cy="154.8" rx="6.3" ry="4.7" fill="url(#gPer)"/><ellipse cx="1347.5" cy="159.8" rx="7.9" ry="6.3" fill="url(#gPer)"/><ellipse cx="1345.8" cy="213.8" rx="8.7" ry="11.0" fill="url(#gPer)"/><ellipse cx="1352.5" cy="242.8" rx="16.6" ry="13.4" fill="url(#gPer)"/><ellipse cx="1309.3" cy="222.1" rx="7.1" ry="7.9" fill="url(#gPer)"/><ellipse cx="1286.1" cy="222.9" rx="8.7" ry="6.3" fill="url(#gPer)"/><ellipse cx="1201.4" cy="224.5" rx="11.8" ry="9.5" fill="url(#gPer)"/><ellipse cx="1327.6" cy="271.0" rx="4.7" ry="3.2" fill="url(#gPer)"/><ellipse cx="1193.1" cy="61.9" rx="2.4" ry="2.4" fill="url(#gPer)"/><ellipse cx="1228.0" cy="66.9" rx="3.2" ry="3.2" fill="url(#gPer)"/><ellipse cx="1312.6" cy="66.1" rx="3.2" ry="3.9" fill="url(#gPer)"/><ellipse cx="1158.3" cy="75.2" rx="2.4" ry="3.9" fill="url(#gPer)"/><ellipse cx="1229.7" cy="197.2" rx="3.9" ry="4.7" fill="url(#gPer)"/><ellipse cx="1306.0" cy="139.9" rx="9.5" ry="13.4" fill="url(#gPerG)"/><ellipse cx="1330.9" cy="181.4" rx="15.0" ry="7.9" fill="url(#gPerG)"/><ellipse cx="1114.3" cy="234.5" rx="10.2" ry="11.0" fill="url(#gPerG)"/><ellipse cx="1325.1" cy="116.7" rx="3.9" ry="6.3" fill="url(#gPerG)"/><ellipse cx="1325.9" cy="287.0" rx="9.5" ry="7.9" fill="url(#gPer)"/><ellipse cx="1354.1" cy="283.7" rx="7.9" ry="3.2" fill="url(#gPer)"/><ellipse cx="1309.3" cy="335.1" rx="19.7" ry="10.2" fill="url(#gPer)"/><ellipse cx="1276.1" cy="345.1" rx="3.9" ry="4.7" fill="url(#gPer)"/><ellipse cx="1291.9" cy="356.7" rx="5.5" ry="5.5" fill="url(#gPer)"/><ellipse cx="1358.3" cy="365.0" rx="6.3" ry="9.5" fill="url(#gPer)"/><ellipse cx="1350.8" cy="380.7" rx="3.9" ry="3.2" fill="url(#gPer)"/><ellipse cx="1239.6" cy="389.0" rx="6.3" ry="5.5" fill="url(#gPer)"/><ellipse cx="1161.6" cy="393.2" rx="6.3" ry="6.3" fill="url(#gPer)"/><ellipse cx="1116.0" cy="387.4" rx="5.5" ry="3.9" fill="url(#gPer)"/><ellipse cx="1320.1" cy="428.0" rx="10.2" ry="10.2" fill="url(#gPer)"/><ellipse cx="1217.2" cy="463.7" rx="6.3" ry="3.9" fill="url(#gPer)"/><ellipse cx="1153.3" cy="481.1" rx="14.2" ry="11.0" fill="url(#gPer)"/><ellipse cx="1132.6" cy="477.0" rx="4.7" ry="4.7" fill="url(#gPer)"/><ellipse cx="1134.2" cy="493.6" rx="5.5" ry="8.7" fill="url(#gPer)"/><ellipse cx="1101.0" cy="494.4" rx="7.1" ry="4.7" fill="url(#gPer)"/><ellipse cx="1082.0" cy="439.7" rx="6.3" ry="11.0" fill="url(#gPer)"/><ellipse cx="1075.3" cy="481.1" rx="3.2" ry="3.2" fill="url(#gPer)"/><ellipse cx="1301.0" cy="488.6" rx="11.8" ry="8.7" fill="url(#gPer)"/><ellipse cx="1284.4" cy="485.3" rx="5.5" ry="4.7" fill="url(#gPer)"/><ellipse cx="1320.1" cy="495.2" rx="7.1" ry="7.9" fill="url(#gPer)"/><ellipse cx="1349.1" cy="475.3" rx="4.7" ry="6.3" fill="url(#gPer)"/><ellipse cx="1093.6" cy="308.6" rx="3.2" ry="3.2" fill="url(#gPer)"/><ellipse cx="1100.2" cy="319.3" rx="2.4" ry="2.4" fill="url(#gPer)"/><ellipse cx="1109.3" cy="416.4" rx="2.4" ry="3.2" fill="url(#gPer)"/><ellipse cx="1142.5" cy="410.6" rx="2.4" ry="2.4" fill="url(#gPer)"/><ellipse cx="1376.5" cy="475.3" rx="3.9" ry="3.9" fill="url(#gPer)"/><ellipse cx="1174.9" cy="303.6" rx="9.5" ry="4.7" fill="url(#gPer)"/><ellipse cx="1231.3" cy="348.4" rx="5.5" ry="4.7" fill="url(#gPer)"/><ellipse cx="1223.0" cy="426.4" rx="7.9" ry="7.1" fill="url(#gPerG)"/><ellipse cx="1186.5" cy="451.3" rx="3.2" ry="3.2" fill="url(#gPerG)"/><ellipse cx="1272.0" cy="432.2" rx="9.5" ry="10.2" fill="url(#gPerY)"/><ellipse cx="1327.6" cy="381.6" rx="5.5" ry="3.2" fill="url(#gPerY)"/><ellipse cx="1587.8" cy="139.9" rx="11.8" ry="10.2" fill="url(#gPer)"/><ellipse cx="1545.5" cy="149.9" rx="7.1" ry="11.0" fill="url(#gPer)"/><ellipse cx="1685.7" cy="123.3" rx="4.7" ry="4.7" fill="url(#gPer)"/><ellipse cx="1695.7" cy="126.6" rx="6.3" ry="5.5" fill="url(#gPer)"/><ellipse cx="1701.5" cy="153.2" rx="7.1" ry="7.9" fill="url(#gPer)"/><ellipse cx="1500.7" cy="189.7" rx="6.3" ry="4.7" fill="url(#gPer)"/><ellipse cx="1552.1" cy="183.9" rx="3.9" ry="4.7" fill="url(#gPer)"/><ellipse cx="1557.9" cy="204.6" rx="3.9" ry="3.2" fill="url(#gPer)"/><ellipse cx="1567.9" cy="203.0" rx="3.9" ry="2.4" fill="url(#gPer)"/><ellipse cx="1672.5" cy="193.0" rx="3.9" ry="5.5" fill="url(#gPer)"/><ellipse cx="1701.5" cy="184.7" rx="3.2" ry="3.2" fill="url(#gPer)"/><ellipse cx="1454.2" cy="206.3" rx="3.9" ry="3.9" fill="url(#gPer)"/><ellipse cx="1483.3" cy="226.2" rx="4.7" ry="4.7" fill="url(#gPer)"/><ellipse cx="1493.2" cy="245.3" rx="3.9" ry="3.9" fill="url(#gPer)"/><ellipse cx="1634.3" cy="246.9" rx="3.2" ry="2.4" fill="url(#gPer)"/><ellipse cx="1561.3" cy="267.7" rx="4.7" ry="6.3" fill="url(#gPer)"/><ellipse cx="1582.0" cy="264.4" rx="3.2" ry="3.9" fill="url(#gPer)"/><ellipse cx="1465.0" cy="70.2" rx="2.4" ry="2.4" fill="url(#gPer)"/><ellipse cx="1438.5" cy="128.3" rx="2.4" ry="3.2" fill="url(#gPer)"/><ellipse cx="1672.5" cy="95.1" rx="3.2" ry="3.2" fill="url(#gPer)"/><ellipse cx="1619.3" cy="143.2" rx="3.9" ry="3.2" fill="url(#gPer)"/><ellipse cx="1480.0" cy="93.4" rx="7.1" ry="7.1" fill="url(#gPerD)"/><ellipse cx="1491.6" cy="111.7" rx="7.1" ry="6.3" fill="url(#gPerD)"/><ellipse cx="1475.0" cy="113.4" rx="3.9" ry="3.9" fill="url(#gPerD)"/><ellipse cx="1650.9" cy="103.4" rx="10.2" ry="9.5" fill="url(#gPerD)"/><ellipse cx="1631.0" cy="122.5" rx="5.5" ry="3.9" fill="url(#gPerD)"/><ellipse cx="1627.6" cy="110.0" rx="3.9" ry="3.9" fill="url(#gPerD)"/><ellipse cx="1639.3" cy="113.4" rx="3.2" ry="4.7" fill="url(#gPerD)"/><ellipse cx="1480.0" cy="267.7" rx="5.5" ry="4.7" fill="url(#gPerD)"/><ellipse cx="1491.6" cy="267.7" rx="3.2" ry="3.2" fill="url(#gPerD)"/><ellipse cx="1674.1" cy="272.7" rx="6.3" ry="4.7" fill="url(#gPerD)"/><ellipse cx="1689.0" cy="277.6" rx="7.9" ry="3.9" fill="url(#gPerD)"/><ellipse cx="1610.2" cy="130.8" rx="3.9" ry="2.4" fill="url(#gPerD)"/><ellipse cx="1480.8" cy="294.4" rx="5.5" ry="7.1" fill="url(#gPer)"/><ellipse cx="1502.4" cy="305.2" rx="5.5" ry="3.9" fill="url(#gPer)"/><ellipse cx="1519.8" cy="291.1" rx="6.3" ry="4.7" fill="url(#gPer)"/><ellipse cx="1556.3" cy="306.1" rx="4.7" ry="4.7" fill="url(#gPer)"/><ellipse cx="1573.7" cy="301.1" rx="4.7" ry="7.1" fill="url(#gPer)"/><ellipse cx="1567.1" cy="317.7" rx="4.7" ry="3.9" fill="url(#gPer)"/><ellipse cx="1650.9" cy="320.2" rx="10.2" ry="9.5" fill="url(#gPer)"/><ellipse cx="1644.2" cy="311.0" rx="7.1" ry="3.9" fill="url(#gPer)"/><ellipse cx="1684.1" cy="285.3" rx="11.8" ry="6.3" fill="url(#gPer)"/><ellipse cx="1672.5" cy="311.0" rx="3.9" ry="2.4" fill="url(#gPer)"/><ellipse cx="1500.7" cy="368.3" rx="3.9" ry="4.7" fill="url(#gPer)"/><ellipse cx="1511.5" cy="377.4" rx="5.5" ry="5.5" fill="url(#gPer)"/><ellipse cx="1592.8" cy="350.9" rx="7.9" ry="6.3" fill="url(#gPer)"/><ellipse cx="1657.5" cy="369.1" rx="7.1" ry="8.7" fill="url(#gPer)"/><ellipse cx="1528.1" cy="392.4" rx="3.9" ry="3.9" fill="url(#gPer)"/><ellipse cx="1558.8" cy="394.0" rx="3.9" ry="3.9" fill="url(#gPer)"/><ellipse cx="1440.1" cy="400.7" rx="7.1" ry="6.3" fill="url(#gPer)"/><ellipse cx="1680.7" cy="385.7" rx="3.9" ry="5.5" fill="url(#gPer)"/><ellipse cx="1676.6" cy="419.7" rx="8.7" ry="9.5" fill="url(#gPer)"/><ellipse cx="1613.5" cy="439.7" rx="14.2" ry="11.8" fill="url(#gPer)"/><ellipse cx="1635.1" cy="433.8" rx="3.9" ry="4.7" fill="url(#gPer)"/><ellipse cx="1580.4" cy="437.2" rx="5.5" ry="5.5" fill="url(#gPer)"/><ellipse cx="1479.1" cy="485.3" rx="4.7" ry="7.9" fill="url(#gPer)"/><ellipse cx="1547.2" cy="455.4" rx="2.4" ry="2.4" fill="url(#gPer)"/><ellipse cx="1484.9" cy="355.0" rx="9.5" ry="10.2" fill="url(#gPerG)"/><ellipse cx="1561.3" cy="350.9" rx="3.9" ry="4.7" fill="url(#gPerG)"/><ellipse cx="1652.5" cy="394.0" rx="7.9" ry="7.1" fill="url(#gPerG)"/><ellipse cx="1561.3" cy="482.8" rx="15.8" ry="12.6" fill="url(#gPerG)"/><ellipse cx="1531.4" cy="417.2" rx="3.2" ry="3.9" fill="url(#gPerG)"/><ellipse cx="1555.5" cy="414.8" rx="13.4" ry="15.8" fill="url(#gPerY)"/><ellipse cx="1530.6" cy="473.7" rx="10.2" ry="7.9" fill="url(#gPerY)"/><ellipse cx="1601.1" cy="476.2" rx="6.3" ry="5.5" fill="url(#gPerD)"/><ellipse cx="1770.4" cy="125.0" rx="10.2" ry="8.7" fill="url(#gPer)"/><ellipse cx="1843.4" cy="135.8" rx="8.7" ry="5.5" fill="url(#gPer)"/><ellipse cx="1815.2" cy="108.4" rx="3.9" ry="7.9" fill="url(#gPer)"/><ellipse cx="1957.1" cy="145.7" rx="7.1" ry="6.3" fill="url(#gPer)"/><ellipse cx="1939.7" cy="123.3" rx="3.9" ry="3.9" fill="url(#gPer)"/><ellipse cx="1919.8" cy="130.0" rx="3.2" ry="3.2" fill="url(#gPer)"/><ellipse cx="1758.0" cy="184.7" rx="7.9" ry="7.9" fill="url(#gPer)"/><ellipse cx="1856.7" cy="167.3" rx="4.7" ry="5.5" fill="url(#gPer)"/><ellipse cx="1902.3" cy="178.1" rx="3.9" ry="4.7" fill="url(#gPer)"/><ellipse cx="1890.7" cy="179.7" rx="3.9" ry="3.2" fill="url(#gPer)"/><ellipse cx="1836.8" cy="199.7" rx="4.7" ry="7.1" fill="url(#gPer)"/><ellipse cx="1845.1" cy="197.2" rx="3.9" ry="3.2" fill="url(#gPer)"/><ellipse cx="1996.9" cy="188.0" rx="6.3" ry="9.5" fill="url(#gPer)"/><ellipse cx="1761.3" cy="213.8" rx="3.9" ry="5.5" fill="url(#gPer)"/><ellipse cx="1808.6" cy="235.3" rx="7.1" ry="7.9" fill="url(#gPer)"/><ellipse cx="1823.5" cy="234.5" rx="5.5" ry="7.1" fill="url(#gPer)"/><ellipse cx="1768.7" cy="242.8" rx="7.1" ry="5.5" fill="url(#gPer)"/><ellipse cx="1782.0" cy="246.1" rx="5.5" ry="6.3" fill="url(#gPer)"/><ellipse cx="1770.4" cy="257.7" rx="7.1" ry="9.5" fill="url(#gPer)"/><ellipse cx="1991.1" cy="227.0" rx="10.2" ry="7.1" fill="url(#gPer)"/><ellipse cx="1801.9" cy="263.5" rx="4.7" ry="3.9" fill="url(#gPer)"/><ellipse cx="1780.4" cy="275.2" rx="4.7" ry="5.5" fill="url(#gPer)"/><ellipse cx="1862.5" cy="266.9" rx="5.5" ry="4.7" fill="url(#gPer)"/><ellipse cx="1884.1" cy="270.2" rx="3.9" ry="3.2" fill="url(#gPer)"/><ellipse cx="1977.8" cy="274.3" rx="7.1" ry="6.3" fill="url(#gPer)"/><ellipse cx="1970.4" cy="251.1" rx="3.2" ry="3.9" fill="url(#gPer)"/><ellipse cx="1961.2" cy="210.4" rx="4.7" ry="6.3" fill="url(#gPer)"/><ellipse cx="2011.0" cy="140.7" rx="3.9" ry="3.9" fill="url(#gPer)"/><ellipse cx="1798.6" cy="76.8" rx="5.5" ry="6.3" fill="url(#gPer)"/><ellipse cx="1855.0" cy="84.3" rx="4.7" ry="5.5" fill="url(#gPer)"/><ellipse cx="1915.6" cy="178.9" rx="7.1" ry="7.1" fill="url(#gPerG)"/><ellipse cx="1924.7" cy="155.7" rx="3.9" ry="3.2" fill="url(#gPerG)"/><ellipse cx="1780.4" cy="285.3" rx="5.5" ry="6.3" fill="url(#gPer)"/><ellipse cx="1790.3" cy="296.1" rx="3.9" ry="3.9" fill="url(#gPer)"/><ellipse cx="1856.7" cy="298.6" rx="7.9" ry="6.3" fill="url(#gPer)"/><ellipse cx="1855.9" cy="308.6" rx="3.2" ry="3.9" fill="url(#gPer)"/><ellipse cx="1909.0" cy="312.7" rx="6.3" ry="5.5" fill="url(#gPer)"/><ellipse cx="1981.2" cy="312.7" rx="11.0" ry="8.7" fill="url(#gPer)"/><ellipse cx="1806.9" cy="316.8" rx="3.9" ry="5.5" fill="url(#gPer)"/><ellipse cx="1865.8" cy="319.3" rx="2.4" ry="3.2" fill="url(#gPer)"/><ellipse cx="1975.3" cy="340.9" rx="10.2" ry="11.0" fill="url(#gPer)"/><ellipse cx="1780.4" cy="338.4" rx="3.2" ry="4.7" fill="url(#gPer)"/><ellipse cx="1771.2" cy="343.4" rx="3.9" ry="3.9" fill="url(#gPer)"/><ellipse cx="1987.8" cy="374.9" rx="10.2" ry="10.2" fill="url(#gPer)"/><ellipse cx="1970.4" cy="362.5" rx="4.7" ry="4.7" fill="url(#gPer)"/><ellipse cx="1956.3" cy="369.1" rx="3.9" ry="5.5" fill="url(#gPer)"/><ellipse cx="1863.3" cy="384.1" rx="10.2" ry="9.5" fill="url(#gPer)"/><ellipse cx="1913.1" cy="388.2" rx="7.9" ry="15.0" fill="url(#gPer)"/><ellipse cx="1911.5" cy="414.8" rx="7.1" ry="10.2" fill="url(#gPer)"/><ellipse cx="1846.7" cy="376.6" rx="3.2" ry="3.2" fill="url(#gPer)"/><ellipse cx="1746.3" cy="421.4" rx="3.2" ry="5.5" fill="url(#gPer)"/><ellipse cx="1813.5" cy="433.8" rx="3.9" ry="4.7" fill="url(#gPer)"/><ellipse cx="1914.8" cy="439.7" rx="6.3" ry="6.3" fill="url(#gPer)"/><ellipse cx="1908.1" cy="447.9" rx="5.5" ry="3.9" fill="url(#gPer)"/><ellipse cx="1899.0" cy="458.7" rx="7.1" ry="7.9" fill="url(#gPer)"/><ellipse cx="1901.5" cy="470.4" rx="3.9" ry="3.2" fill="url(#gPer)"/><ellipse cx="1755.5" cy="451.3" rx="7.1" ry="6.3" fill="url(#gPer)"/><ellipse cx="1756.3" cy="463.7" rx="3.9" ry="3.9" fill="url(#gPer)"/><ellipse cx="1828.5" cy="472.8" rx="7.9" ry="6.3" fill="url(#gPer)"/><ellipse cx="1800.3" cy="464.5" rx="3.2" ry="4.7" fill="url(#gPer)"/><ellipse cx="1821.8" cy="487.8" rx="3.9" ry="3.2" fill="url(#gPer)"/><ellipse cx="1770.4" cy="478.6" rx="3.9" ry="3.2" fill="url(#gPer)"/><ellipse cx="1793.6" cy="443.0" rx="3.2" ry="3.9" fill="url(#gPer)"/><ellipse cx="1915.6" cy="463.7" rx="3.9" ry="3.9" fill="url(#gPer)"/><ellipse cx="2012.7" cy="426.4" rx="3.2" ry="3.2" fill="url(#gPer)"/><ellipse cx="1969.5" cy="443.8" rx="10.2" ry="13.4" fill="url(#gPerG)"/><ellipse cx="1770.4" cy="412.3" rx="4.7" ry="4.7" fill="url(#gPerG)"/><ellipse cx="1953.8" cy="311.9" rx="3.2" ry="3.9" fill="url(#gPerG)"/><ellipse cx="1797.8" cy="407.3" rx="6.3" ry="5.5" fill="url(#gPerD)"/><ellipse cx="1841.8" cy="426.4" rx="11.8" ry="10.2" fill="url(#gPerD)"/></g>
<g filter="url(#fLeaf)">
<path d="M1179.9 249.4L1199.8 277.6L1213.1 298.6" fill="none" stroke="#8bc54d" stroke-width="6.5" stroke-linecap="round" stroke-linejoin="round"/>
<path d="M1241.3 236.2L1226.3 281.0L1213.1 298.6" fill="none" stroke="#8bc54d" stroke-width="6" stroke-linecap="round" stroke-linejoin="round"/>
<path d="M1171.6 313.5L1204.8 305.2L1213.1 298.6" fill="none" stroke="#8bc54d" stroke-width="7" stroke-linecap="round" stroke-linejoin="round"/>
<path d="M1188.2 355.0L1201.4 320.2L1213.1 298.6" fill="none" stroke="#8bc54d" stroke-width="6" stroke-linecap="round" stroke-linejoin="round"/>
<path d="M1247.9 274.3L1213.1 298.6" fill="none" stroke="#8bc54d" stroke-width="6" stroke-linecap="round" stroke-linejoin="round"/>
<path d="M1237.9 338.4L1213.1 298.6" fill="none" stroke="#8bc54d" stroke-width="7" stroke-linecap="round" stroke-linejoin="round"/>
<path d="M-34.0 0C-31.3 -10.5 -17.0 -25.0 4.1 -25.0C23.1 -25.0 34.0 -14.5 34.0 0C34.0 14.5 23.1 25.0 4.1 25.0C-17.0 25.0 -31.3 10.5 -34.0 0Z" transform="translate(1154.5 220.4) rotate(-128)" fill="#88ca47"/>
<path d="M-29.0 0C-26.7 -10.9 -14.5 -26.0 3.5 -26.0C19.7 -26.0 29.0 -15.1 29.0 0C29.0 15.1 19.7 26.0 3.5 26.0C-14.5 26.0 -26.7 10.9 -29.0 0Z" transform="translate(1251.2 210.4) rotate(-70)" fill="#88ca47"/>
<path d="M-41.0 0C-37.7 -7.8 -20.5 -18.5 4.9 -18.5C27.9 -18.5 41.0 -10.7 41.0 0C41.0 10.7 27.9 18.5 4.9 18.5C-20.5 18.5 -37.7 7.8 -41.0 0Z" transform="translate(1266.6 259.5) rotate(-42)" fill="#7ec041"/>
<path d="M-40.0 0C-36.8 -9.0 -20.0 -21.5 4.8 -21.5C27.2 -21.5 40.0 -12.5 40.0 0C40.0 12.5 27.2 21.5 4.8 21.5C-20.0 21.5 -36.8 9.0 -40.0 0Z" transform="translate(1138.4 326.0) rotate(162)" fill="#88ca47"/>
<path d="M-41.0 0C-37.7 -9.7 -20.5 -23.0 4.9 -23.0C27.9 -23.0 41.0 -13.3 41.0 0C41.0 13.3 27.9 23.0 4.9 23.0C-20.5 23.0 -37.7 9.7 -41.0 0Z" transform="translate(1265.3 374.1) rotate(55)" fill="#88ca47"/>
<path d="M-17.0 0C-15.6 -6.5 -8.5 -15.5 2.0 -15.5C11.6 -15.5 17.0 -9.0 17.0 0C17.0 9.0 11.6 15.5 2.0 15.5C-8.5 15.5 -15.6 6.5 -17.0 0Z" transform="translate(1184.8 370.0) rotate(100)" fill="#93cd55"/>
<path d="M-24.0 0C-22.1 -7.3 -12.0 -17.5 2.9 -17.5C16.3 -17.5 24.0 -10.1 24.0 0C24.0 10.1 16.3 17.5 2.9 17.5C-12.0 17.5 -22.1 7.3 -24.0 0Z" transform="translate(1218.0 330.1) rotate(88)" fill="#84c24a"/>
<path d="M-16.5 0C-15.2 -3.8 -8.2 -9.0 2.0 -9.0C11.2 -9.0 16.5 -5.2 16.5 0C16.5 5.2 11.2 9.0 2.0 9.0C-8.2 9.0 -15.2 3.8 -16.5 0Z" transform="translate(1179.9 288.6) rotate(190)" fill="#84bf4c"/>
<path d="M-14.5 0C-13.3 -5.5 -7.2 -13.0 1.7 -13.0C9.9 -13.0 14.5 -7.5 14.5 0C14.5 7.5 9.9 13.0 1.7 13.0C-7.2 13.0 -13.3 5.5 -14.5 0Z" transform="translate(1247.9 323.5) rotate(30)" fill="#8dbb58"/>
<path d="M-10.0 0C-9.2 -2.5 -5.0 -6.0 1.2 -6.0C6.8 -6.0 10.0 -3.5 10.0 0C10.0 3.5 6.8 6.0 1.2 6.0C-5.0 6.0 -9.2 2.5 -10.0 0Z" transform="translate(1207.7 294.3) rotate(-140)" fill="#8cc158"/>
<path d="M-9.0 0C-8.3 -2.5 -4.5 -6.0 1.1 -6.0C6.1 -6.0 9.0 -3.5 9.0 0C9.0 3.5 6.1 6.0 1.1 6.0C-4.5 6.0 -8.3 2.5 -9.0 0Z" transform="translate(1221.7 293.3) rotate(-40)" fill="#93c562"/>
<path d="M-9.0 0C-8.3 -2.3 -4.5 -5.5 1.1 -5.5C6.1 -5.5 9.0 -3.2 9.0 0C9.0 3.2 6.1 5.5 1.1 5.5C-4.5 5.5 -8.3 2.3 -9.0 0Z" transform="translate(1223.7 305.3) rotate(30)" fill="#88bd55"/>
<path d="M-9.0 0C-8.3 -2.5 -4.5 -6.0 1.1 -6.0C6.1 -6.0 9.0 -3.5 9.0 0C9.0 3.5 6.1 6.0 1.1 6.0C-4.5 6.0 -8.3 2.5 -9.0 0Z" transform="translate(1208.7 308.3) rotate(140)" fill="#90c35d"/>
<path d="M-8.0 0C-7.4 -2.7 -4.0 -6.5 1.0 -6.5C5.4 -6.5 8.0 -3.8 8.0 0C8.0 3.8 5.4 6.5 1.0 6.5C-4.0 6.5 -7.4 2.7 -8.0 0Z" transform="translate(1214.7 298.3) rotate(90)" fill="#97c86a"/>
<path d="M1536.4 199.7L1549.7 232.8" fill="none" stroke="#8bc54d" stroke-width="6.5" stroke-linecap="round" stroke-linejoin="round"/>
<path d="M1582.8 198.0L1559.6 222.9L1549.7 232.8" fill="none" stroke="#8bc54d" stroke-width="6" stroke-linecap="round" stroke-linejoin="round"/>
<path d="M1488.2 236.2L1533.1 234.5L1549.7 232.8" fill="none" stroke="#8bc54d" stroke-width="7" stroke-linecap="round" stroke-linejoin="round"/>
<path d="M1587.8 256.1L1557.9 241.1L1549.7 232.8" fill="none" stroke="#8bc54d" stroke-width="7" stroke-linecap="round" stroke-linejoin="round"/>
<path d="M1536.4 295.3L1538.0 257.7L1549.7 232.8" fill="none" stroke="#8bc54d" stroke-width="6" stroke-linecap="round" stroke-linejoin="round"/>
<path d="M-37.5 0C-34.5 -9.2 -18.8 -22.0 4.5 -22.0C25.5 -22.0 37.5 -12.8 37.5 0C37.5 12.8 25.5 22.0 4.5 22.0C-18.8 22.0 -34.5 9.2 -37.5 0Z" transform="translate(1525.6 164.8) rotate(-100)" fill="#88ca47"/>
<path d="M-22.5 0C-20.7 -8.6 -11.2 -20.5 2.7 -20.5C15.3 -20.5 22.5 -11.9 22.5 0C22.5 11.9 15.3 20.5 2.7 20.5C-11.2 20.5 -20.7 8.6 -22.5 0Z" transform="translate(1599.4 179.7) rotate(-45)" fill="#93cd55"/>
<path d="M-36.0 0C-33.1 -12.6 -18.0 -30.0 4.3 -30.0C24.5 -30.0 36.0 -17.4 36.0 0C36.0 17.4 24.5 30.0 4.3 30.0C-18.0 30.0 -33.1 12.6 -36.0 0Z" transform="translate(1454.2 242.8) rotate(180)" fill="#88ca47"/>
<path d="M-41.0 0C-37.7 -10.5 -20.5 -25.0 4.9 -25.0C27.9 -25.0 41.0 -14.5 41.0 0C41.0 14.5 27.9 25.0 4.9 25.0C-20.5 25.0 -37.7 10.5 -41.0 0Z" transform="translate(1622.0 277.5) rotate(25)" fill="#88ca47"/>
<path d="M-22.0 0C-20.2 -7.3 -11.0 -17.5 2.6 -17.5C15.0 -17.5 22.0 -10.1 22.0 0C22.0 10.1 15.0 17.5 2.6 17.5C-11.0 17.5 -20.2 7.3 -22.0 0Z" transform="translate(1530.6 262.7) rotate(105)" fill="#84c24a"/>
<path d="M-27.0 0C-24.8 -10.7 -13.5 -25.5 3.2 -25.5C18.4 -25.5 27.0 -14.8 27.0 0C27.0 14.8 18.4 25.5 3.2 25.5C-13.5 25.5 -24.8 10.7 -27.0 0Z" transform="translate(1529.4 321.0) rotate(95)" fill="#7cc242"/>
<path d="M-12.0 0C-11.0 -3.6 -6.0 -8.5 1.4 -8.5C8.2 -8.5 12.0 -4.9 12.0 0C12.0 4.9 8.2 8.5 1.4 8.5C-6.0 8.5 -11.0 3.6 -12.0 0Z" transform="translate(1576.2 244.5) rotate(20)" fill="#93cd55"/>
<path d="M-11.0 0C-10.1 -2.7 -5.5 -6.5 1.3 -6.5C7.5 -6.5 11.0 -3.8 11.0 0C11.0 3.8 7.5 6.5 1.3 6.5C-5.5 6.5 -10.1 2.7 -11.0 0Z" transform="translate(1540.7 229.8) rotate(-160)" fill="#8cbe5c"/>
<path d="M-10.0 0C-9.2 -2.7 -5.0 -6.5 1.2 -6.5C6.8 -6.5 10.0 -3.8 10.0 0C10.0 3.8 6.8 6.5 1.2 6.5C-5.0 6.5 -9.2 2.7 -10.0 0Z" transform="translate(1557.7 226.8) rotate(-30)" fill="#93c464"/>
<path d="M-9.0 0C-8.3 -2.5 -4.5 -6.0 1.1 -6.0C6.1 -6.0 9.0 -3.5 9.0 0C9.0 3.5 6.1 6.0 1.1 6.0C-4.5 6.0 -8.3 2.5 -9.0 0Z" transform="translate(1557.7 239.8) rotate(40)" fill="#88ba58"/>
<path d="M-9.0 0C-8.3 -2.5 -4.5 -6.0 1.1 -6.0C6.1 -6.0 9.0 -3.5 9.0 0C9.0 3.5 6.1 6.0 1.1 6.0C-4.5 6.0 -8.3 2.5 -9.0 0Z" transform="translate(1544.7 241.8) rotate(130)" fill="#90c060"/>
<path d="M-8.5 0C-7.8 -2.9 -4.2 -7.0 1.0 -7.0C5.8 -7.0 8.5 -4.1 8.5 0C8.5 4.1 5.8 7.0 1.0 7.0C-4.2 7.0 -7.8 2.9 -8.5 0Z" transform="translate(1549.7 232.8) rotate(80)" fill="#98c66c"/>
<path d="M1891.5 216.2L1904.8 232.8L1911.5 252.8" fill="none" stroke="#6aa34a" stroke-width="2.6" stroke-linecap="round" stroke-linejoin="round"/>
<path d="M-13.5 0C-12.4 -3.6 -6.8 -8.5 1.6 -8.5C9.2 -8.5 13.5 -4.9 13.5 0C13.5 4.9 9.2 8.5 1.6 8.5C-6.8 8.5 -12.4 3.6 -13.5 0Z" transform="translate(1887.4 212.9) rotate(-130)" fill="#5fa540"/>
<path d="M-14.5 0C-13.3 -4.4 -7.2 -10.5 1.7 -10.5C9.9 -10.5 14.5 -6.1 14.5 0C14.5 6.1 9.9 10.5 1.7 10.5C-7.2 10.5 -13.3 4.4 -14.5 0Z" transform="translate(1913.4 261.1) rotate(80)" fill="#6bb046"/>
<path d="M-7.5 0C-6.9 -2.7 -3.8 -6.5 0.9 -6.5C5.1 -6.5 7.5 -3.8 7.5 0C7.5 3.8 5.1 6.5 0.9 6.5C-3.8 6.5 -6.9 2.7 -7.5 0Z" transform="translate(1919.8 223.7) rotate(-30)" fill="#8b9b74"/>
<path d="M-6.5 0C-6.0 -1.7 -3.2 -4.0 0.8 -4.0C4.4 -4.0 6.5 -2.3 6.5 0C6.5 2.3 4.4 4.0 0.8 4.0C-3.2 4.0 -6.0 1.7 -6.5 0Z" transform="translate(1918.4 234.5) rotate(10)" fill="#7ab850"/>
<path d="M-7.5 0C-6.9 -2.7 -3.8 -6.5 0.9 -6.5C5.1 -6.5 7.5 -3.8 7.5 0C7.5 3.8 5.1 6.5 0.9 6.5C-3.8 6.5 -6.9 2.7 -7.5 0Z" transform="translate(1886.6 235.3) rotate(170)" fill="#3d2c40"/>
</g>
<g stroke="#6aa838" stroke-width="1" opacity="0.45" fill="none"><path d="M1244 283L1290 238"/><path d="M1168 318L1106 338"/><path d="M1248 348L1284 400"/><path d="M1590 263L1652 291"/><path d="M1530 195L1522 140"/><path d="M1484 243L1424 243"/></g>
</g>
<text x="1169.80" y="93.80" font-size="35.5" textLength="87.82" lengthAdjust="spacingAndGlyphs" font-weight="bold" fill="#fff">Col-0</text>
<text x="1487.03" y="93.80" font-size="35.5" textLength="137.02" lengthAdjust="spacingAndGlyphs" font-weight="bold" fill="#fff">H3.1 WT</text>
<text x="1796.62" y="93.80" font-size="35.5" textLength="167.09" lengthAdjust="spacingAndGlyphs" font-weight="bold" fill="#fff">H3.1K27M</text>
<text x="1942.05" y="494.60" font-size="25" textLength="60.16" lengthAdjust="spacingAndGlyphs" font-weight="bold" fill="#fff">1 cm</text>
<rect x="1938.6" y="503.0" width="68.6" height="9.2" fill="#fff"/>
</g>
<g id="panelC">
<text x="0.39" y="649.60" font-size="44.3" textLength="30.31" lengthAdjust="spacingAndGlyphs" font-weight="bold">C</text>
<path d="M174.5 732.4L268.8 732.4L362.7 732.4L456.2 732.4L550.5 732.4L644.2 732.4" fill="none" stroke="#a4bfec" stroke-width="9.4" stroke-linejoin="round"/>
<path d="M174.5 752.7L268.8 758.0L362.7 763.5L456.2 767.8L550.5 768.0L644.2 768.0" fill="none" stroke="#cdb896" stroke-width="9.4" stroke-linejoin="round"/>
<path d="M174.5 815.9L268.8 878.5L362.7 894.5L456.2 929.5L550.5 976.3L644.2 1030.6" fill="none" stroke="#e0d5cc" stroke-width="9.4" stroke-linejoin="round"/>
<line x1="174.5" y1="650.4" x2="174.5" y2="1142.2" stroke="#000" stroke-width="1.6"/>
<line x1="150.0" y1="1118.2" x2="645.0" y2="1118.2" stroke="#000" stroke-width="1.6"/>
<text x="107.35" y="1126.00" font-size="27.0" textLength="15.13" lengthAdjust="spacingAndGlyphs">0</text>
<line x1="150.0" y1="1040.2" x2="174.5" y2="1040.2" stroke="#000" stroke-width="1.6"/>
<text x="106.97" y="1048.00" font-size="27.0" textLength="29.08" lengthAdjust="spacingAndGlyphs">20</text>
<line x1="150.0" y1="962.2" x2="174.5" y2="962.2" stroke="#000" stroke-width="1.6"/>
<text x="107.80" y="970.00" font-size="27.0" textLength="28.23" lengthAdjust="spacingAndGlyphs">40</text>
<line x1="150.0" y1="884.2" x2="174.5" y2="884.2" stroke="#000" stroke-width="1.6"/>
<text x="106.97" y="892.00" font-size="27.0" textLength="29.08" lengthAdjust="spacingAndGlyphs">60</text>
<line x1="150.0" y1="806.2" x2="174.5" y2="806.2" stroke="#000" stroke-width="1.6"/>
<text x="107.40" y="814.00" font-size="27.0" textLength="28.65" lengthAdjust="spacingAndGlyphs">80</text>
<line x1="150.0" y1="728.2" x2="174.5" y2="728.2" stroke="#000" stroke-width="1.6"/>
<text x="108.02" y="736.00" font-size="27.0" textLength="42.11" lengthAdjust="spacingAndGlyphs">100</text>
<line x1="268.8" y1="1118.2" x2="268.8" y2="1142.2" stroke="#000" stroke-width="1.6"/>
<line x1="362.7" y1="1118.2" x2="362.7" y2="1142.2" stroke="#000" stroke-width="1.6"/>
<line x1="456.2" y1="1118.2" x2="456.2" y2="1142.2" stroke="#000" stroke-width="1.6"/>
<line x1="550.5" y1="1118.2" x2="550.5" y2="1142.2" stroke="#000" stroke-width="1.6"/>
<line x1="644.2" y1="1118.2" x2="644.2" y2="1142.2" stroke="#000" stroke-width="1.6"/>
<text x="168.28" y="1177.20" font-size="27.0" textLength="14.68" lengthAdjust="spacingAndGlyphs">0</text>
<text x="263.09" y="1177.20" font-size="27.0" textLength="14.45" lengthAdjust="spacingAndGlyphs">4</text>
<text x="356.32" y="1177.20" font-size="27.0" textLength="15.62" lengthAdjust="spacingAndGlyphs">8</text>
<text x="439.98" y="1177.20" font-size="27.0" textLength="28.87" lengthAdjust="spacingAndGlyphs">12</text>
<text x="532.58" y="1177.20" font-size="27.0" textLength="30.53" lengthAdjust="spacingAndGlyphs">16</text>
<text x="625.87" y="1177.20" font-size="27.0" textLength="29.29" lengthAdjust="spacingAndGlyphs">20</text>
<text x="380.82" y="1221.00" font-size="34.3" textLength="78.26" lengthAdjust="spacingAndGlyphs">Days</text>
<text x="89.50" y="1004.04" transform="rotate(-90 89.50 1004.04)" font-size="34.3" textLength="246.37" lengthAdjust="spacingAndGlyphs">Survival rate (%)</text>
<circle cx="174.5" cy="732.4" r="9.5" fill="#000"/>
<circle cx="268.8" cy="732.4" r="9.5" fill="#000"/>
<circle cx="362.7" cy="732.4" r="9.5" fill="#000"/>
<circle cx="456.2" cy="732.4" r="9.5" fill="#000"/>
<circle cx="550.5" cy="732.4" r="9.5" fill="#000"/>
<circle cx="644.2" cy="732.4" r="9.5" fill="#000"/>
<path d="M164.9 761.8L184.1 761.8L174.5 742.2Z" fill="#000"/>
<path d="M259.2 767.0L278.4 767.0L268.8 747.5Z" fill="#000"/>
<path d="M353.1 772.5L372.3 772.5L362.7 753.0Z" fill="#000"/>
<path d="M446.6 776.9L465.8 776.9L456.2 757.4Z" fill="#000"/>
<path d="M540.9 777.0L560.1 777.0L550.5 757.5Z" fill="#000"/>
<path d="M634.6 777.0L653.8 777.0L644.2 757.5Z" fill="#000"/>
<path d="M164.9 806.8L184.1 806.8L174.5 826.2Z" fill="#000"/>
<path d="M259.2 869.4L278.4 869.4L268.8 888.9Z" fill="#000"/>
<path d="M353.1 885.4L372.3 885.4L362.7 904.9Z" fill="#000"/>
<path d="M446.6 920.4L465.8 920.4L456.2 939.9Z" fill="#000"/>
<path d="M540.9 967.1L560.1 967.1L550.5 986.6Z" fill="#000"/>
<path d="M634.6 1021.5L653.8 1021.5L644.2 1041.0Z" fill="#000"/>
<path d="M678.5 735.3L745.5 735.3" fill="none" stroke="#a4bfec" stroke-width="9.4" stroke-linecap="round"/>
<circle cx="712.0" cy="735.3" r="9.5" fill="#000"/>
<text x="769.10" y="746.00" font-size="30.0" textLength="71.24" lengthAdjust="spacingAndGlyphs">Col-0</text>
<path d="M680.8 780.0L747.2 780.0" fill="none" stroke="#cdb896" stroke-width="9.4" stroke-linecap="round"/>
<path d="M704.3 789.8L723.5 789.8L713.9 770.2Z" fill="#000"/>
<text x="770.97" y="791.00" font-size="30.0" textLength="117.64" lengthAdjust="spacingAndGlyphs">H3.1 WT</text>
<path d="M680.8 823.8L747.2 823.8" fill="none" stroke="#e0d5cc" stroke-width="9.4" stroke-linecap="round"/>
<path d="M704.3 814.5L723.5 814.5L713.9 834.0Z" fill="#000"/>
<text x="770.96" y="835.00" font-size="30.0" textLength="141.66" lengthAdjust="spacingAndGlyphs">H3.1K27M</text>
</g>
<g id="panelD">
<text x="910.44" y="648.60" font-size="44.3" textLength="31.89" lengthAdjust="spacingAndGlyphs" font-weight="bold">D</text>
<defs>
<radialGradient id="gNucWT" cx="0.5" cy="0.5" r="0.5"><stop offset="0" stop-color="#ff0606"/><stop offset="0.42" stop-color="#fc0404"/><stop offset="0.62" stop-color="#c80404" stop-opacity="0.9"/><stop offset="0.82" stop-color="#6e0000" stop-opacity="0.55"/><stop offset="1" stop-color="#300000" stop-opacity="0"/></radialGradient>
<radialGradient id="gHead" cx="0.5" cy="0.5" r="0.5"><stop offset="0" stop-color="#ff1010"/><stop offset="0.55" stop-color="#f40808"/><stop offset="0.8" stop-color="#b00808" stop-opacity="0.7"/><stop offset="1" stop-color="#600000" stop-opacity="0"/></radialGradient>
<linearGradient id="gTail" x1="0" y1="0" x2="1" y2="0"><stop offset="0" stop-color="#fff" stop-opacity="1"/><stop offset="0.3" stop-color="#fff" stop-opacity="0.85"/><stop offset="0.65" stop-color="#fff" stop-opacity="0.55"/><stop offset="1" stop-color="#fff" stop-opacity="0.32"/></linearGradient>
<clipPath id="clipD3"><rect x="969.1" y="1003.8" width="342.7" height="160"/></clipPath>
<filter id="fTail" x="960" y="1000" width="360" height="170" filterUnits="userSpaceOnUse" color-interpolation-filters="sRGB"><feGaussianBlur in="SourceGraphic" stdDeviation="11" result="b"/><feTurbulence type="fractalNoise" baseFrequency="0.33" numOctaves="3" seed="8" result="n"/><feColorMatrix in="n" type="matrix" values="0 0 0 0 0.95  0 0 0 0 0.04  0 0 0 0 0.04  6.5 0 0 0 -3.0" result="s"/><feComposite in="s" in2="b" operator="in" result="sp"/><feColorMatrix in="b" type="matrix" values="0 0 0 0 0.5  0 0 0 0 0  0 0 0 0 0  0 0 0 0.55 0" result="glow"/><feMerge><feMergeNode in="glow"/><feMergeNode in="sp"/></feMerge></filter>
<filter id="fNuc" x="-10%" y="-10%" width="120%" height="120%"><feTurbulence type="fractalNoise" baseFrequency="0.6" numOctaves="1" seed="2" result="t"/><feDisplacementMap in="SourceGraphic" in2="t" scale="1.6" xChannelSelector="R" yChannelSelector="G"/></filter>
</defs>
<rect x="969.1" y="655.1" width="342.7" height="159.6" fill="#000"/>
<rect x="969.1" y="831.1" width="339.9" height="156.7" fill="#000"/>
<rect x="969.1" y="1003.8" width="342.7" height="160" fill="#000"/>
<ellipse cx="1035.9" cy="733.6" rx="17.2" ry="15.2" transform="rotate(38 1035.9 733.6)" fill="#ff0000" filter="url(#fNuc)"/>
<ellipse cx="1047.6" cy="897.4" rx="33.5" ry="28.5" fill="url(#gNucWT)"/>
<g clip-path="url(#clipD3)">
<path d="M1036 1090L1075 1084L1150 1066L1230 1052L1340 1036L1340 1124L1230 1122L1150 1118L1075 1110L1036 1104Z" fill="url(#gTail)" filter="url(#fTail)"/>
<circle cx="1038.7" cy="1096.8" r="13.5" fill="url(#gHead)"/>
</g>
<text x="978.64" y="689.80" font-size="31" textLength="76.70" lengthAdjust="spacingAndGlyphs" font-weight="bold" fill="#fff">Col-0</text>
<text x="977.68" y="863.60" font-size="31" textLength="121.06" lengthAdjust="spacingAndGlyphs" font-weight="bold" fill="#fff">H3.1 WT</text>
<text x="978.88" y="1040.10" font-size="31" textLength="147.12" lengthAdjust="spacingAndGlyphs" font-weight="bold" fill="#fff">H3.1K27M</text>
<text x="1248.63" y="1146.00" font-size="22.5" textLength="47.50" lengthAdjust="spacingAndGlyphs" font-weight="bold" fill="#fff">5µm</text>
<rect x="1243.2" y="1150.2" width="60.7" height="8.7" fill="#fff"/>
</g>
<g id="panelE">
<text x="1383.68" y="649.00" font-size="44.3" textLength="27.92" lengthAdjust="spacingAndGlyphs" font-weight="bold">E</text>
<line x1="1524.1" y1="649.0" x2="1524.1" y2="1118.9" stroke="#000" stroke-width="1.6"/>
<line x1="1499.4" y1="1118.9" x2="1991.8" y2="1118.9" stroke="#000" stroke-width="1.6"/>
<text x="1479.67" y="1126.60" font-size="27.0" textLength="14.68" lengthAdjust="spacingAndGlyphs">0</text>
<line x1="1499.4" y1="1025.1" x2="1524.1" y2="1025.1" stroke="#000" stroke-width="1.6"/>
<text x="1460.37" y="1032.76" font-size="27.0" textLength="29.18" lengthAdjust="spacingAndGlyphs">20</text>
<line x1="1499.4" y1="931.2" x2="1524.1" y2="931.2" stroke="#000" stroke-width="1.6"/>
<text x="1461.20" y="938.92" font-size="27.0" textLength="28.33" lengthAdjust="spacingAndGlyphs">40</text>
<line x1="1499.4" y1="837.4" x2="1524.1" y2="837.4" stroke="#000" stroke-width="1.6"/>
<text x="1460.37" y="845.08" font-size="27.0" textLength="29.18" lengthAdjust="spacingAndGlyphs">60</text>
<line x1="1499.4" y1="743.5" x2="1524.1" y2="743.5" stroke="#000" stroke-width="1.6"/>
<text x="1460.79" y="751.24" font-size="27.0" textLength="28.75" lengthAdjust="spacingAndGlyphs">80</text>
<line x1="1499.4" y1="649.7" x2="1524.1" y2="649.7" stroke="#000" stroke-width="1.6"/>
<text x="1448.39" y="657.40" font-size="27.0" textLength="43.06" lengthAdjust="spacingAndGlyphs">100</text>
<line x1="1617.1" y1="1118.9" x2="1617.1" y2="1142.8" stroke="#000" stroke-width="1.6"/>
<line x1="1757.7" y1="1118.9" x2="1757.7" y2="1142.8" stroke="#000" stroke-width="1.6"/>
<line x1="1898.1" y1="1118.9" x2="1898.1" y2="1142.8" stroke="#000" stroke-width="1.6"/>
<text x="1590.08" y="1176.30" font-size="30.0" textLength="72.37" lengthAdjust="spacingAndGlyphs">Col-0</text>
<text x="1695.84" y="1176.30" font-size="30.0" textLength="119.38" lengthAdjust="spacingAndGlyphs">H3.1 WT</text>
<text x="1836.50" y="1176.30" font-size="30.0" textLength="145.17" lengthAdjust="spacingAndGlyphs">H3.1K27M</text>
<text x="1441.00" y="1029.75" transform="rotate(-90 1441.00 1029.75)" font-size="34.3" textLength="311.63" lengthAdjust="spacingAndGlyphs">DNA in comet tail (%)</text>
<path d="M1616.6 644.2L1616.6 607.2L1744.8 607.2L1744.8 644.2" fill="none" stroke="#000" stroke-width="1.6"/>
<path d="M1769.9 644.2L1769.9 607.2L1897.2 607.2L1897.2 644.2" fill="none" stroke="#000" stroke-width="1.6"/>
<text x="1663.00" y="601.10" font-size="25.0" textLength="27.00" lengthAdjust="spacingAndGlyphs">ns</text>
<text x="1786.35" y="601.90" font-size="25.0" textLength="87.26" lengthAdjust="spacingAndGlyphs">2.6 x 10</text>
<text x="1874.87" y="593.40" font-size="15.5" textLength="18.89" lengthAdjust="spacingAndGlyphs">-11</text>
<g fill="#5b8dcb" fill-opacity="0.58" stroke="#6a6a6a" stroke-opacity="0.8" stroke-width="1.8">
<circle cx="1616.6" cy="948.8" r="8.8"/>
<circle cx="1616.6" cy="991.1" r="8.8"/>
<circle cx="1635.8" cy="1000.0" r="8.8"/>
<circle cx="1607.6" cy="1009.0" r="8.8"/>
<circle cx="1635.8" cy="1020.1" r="8.8"/>
<circle cx="1597.8" cy="1023.7" r="8.8"/>
<circle cx="1616.6" cy="1025.5" r="8.8"/>
<circle cx="1607.6" cy="1038.0" r="8.8"/>
<circle cx="1626.5" cy="1040.7" r="8.8"/>
<circle cx="1635.8" cy="1039.5" r="8.8"/>
<circle cx="1597.8" cy="1050.2" r="8.8"/>
<circle cx="1616.6" cy="1055.9" r="8.8"/>
<circle cx="1606.7" cy="1059.5" r="8.8"/>
<circle cx="1635.8" cy="1059.2" r="8.8"/>
<circle cx="1625.6" cy="1066.7" r="8.8"/>
<circle cx="1579.3" cy="1078.0" r="8.8"/>
<circle cx="1644.9" cy="1079.2" r="8.8"/>
<circle cx="1616.6" cy="1087.8" r="8.8"/>
<circle cx="1588.8" cy="1093.2" r="8.8"/>
<circle cx="1607.6" cy="1093.2" r="8.8"/>
<circle cx="1654.2" cy="1089.1" r="8.8"/>
<circle cx="1597.8" cy="1099.0" r="8.8"/>
<circle cx="1626.5" cy="1100.8" r="8.8"/>
<circle cx="1579.3" cy="1104.7" r="8.8"/>
<circle cx="1644.9" cy="1102.5" r="8.8"/>
<circle cx="1635.8" cy="1106.1" r="8.8"/>
<circle cx="1616.6" cy="1109.7" r="8.8"/>
<circle cx="1654.2" cy="1108.8" r="8.8"/>
</g>
<line x1="1570.4" y1="1060.0" x2="1663.2" y2="1060.0" stroke="#000" stroke-width="1.6"/>
<line x1="1710.8" y1="1060.0" x2="1803.5" y2="1060.0" stroke="#000" stroke-width="1.6"/>
<g fill="#d6c4a2" fill-opacity="0.6" stroke="#6a6a6a" stroke-opacity="0.8" stroke-width="1.8">
<circle cx="1757.4" cy="966.3" r="8.8"/>
<circle cx="1785.5" cy="1008.4" r="8.8"/>
<circle cx="1747.5" cy="1019.2" r="8.8"/>
<circle cx="1757.4" cy="1018.8" r="8.8"/>
<circle cx="1766.4" cy="1017.4" r="8.8"/>
<circle cx="1776.2" cy="1019.7" r="8.8"/>
<circle cx="1738.0" cy="1025.5" r="8.8"/>
<circle cx="1738.0" cy="1047.9" r="8.8"/>
<circle cx="1747.5" cy="1048.8" r="8.8"/>
<circle cx="1757.4" cy="1052.0" r="8.8"/>
<circle cx="1785.5" cy="1050.6" r="8.8"/>
<circle cx="1719.4" cy="1064.0" r="8.8"/>
<circle cx="1728.7" cy="1060.4" r="8.8"/>
<circle cx="1766.4" cy="1061.3" r="8.8"/>
<circle cx="1776.2" cy="1060.4" r="8.8"/>
<circle cx="1795.0" cy="1064.9" r="8.8"/>
<circle cx="1785.5" cy="1069.4" r="8.8"/>
<circle cx="1738.0" cy="1073.0" r="8.8"/>
<circle cx="1747.5" cy="1070.3" r="8.8"/>
<circle cx="1766.4" cy="1081.0" r="8.8"/>
<circle cx="1776.2" cy="1081.0" r="8.8"/>
<circle cx="1728.7" cy="1102.5" r="8.8"/>
<circle cx="1738.0" cy="1099.0" r="8.8"/>
<circle cx="1747.5" cy="1101.6" r="8.8"/>
<circle cx="1757.4" cy="1099.9" r="8.8"/>
<circle cx="1776.2" cy="1102.5" r="8.8"/>
<circle cx="1785.5" cy="1105.2" r="8.8"/>
<circle cx="1766.4" cy="1109.7" r="8.8"/>
</g>
<line x1="1851.5" y1="899.0" x2="1944.3" y2="899.0" stroke="#000" stroke-width="1.6"/>
<g fill="#ede8e2" fill-opacity="1" stroke="#000" stroke-opacity="1" stroke-width="1.5">
<circle cx="1897.7" cy="681.3" r="8.8"/>
<circle cx="1879.3" cy="749.7" r="8.8"/>
<circle cx="1897.7" cy="756.6" r="8.8"/>
<circle cx="1916.6" cy="753.0" r="8.8"/>
<circle cx="1897.7" cy="777.7" r="8.8"/>
<circle cx="1916.6" cy="794.7" r="8.8"/>
<circle cx="1879.3" cy="803.7" r="8.8"/>
<circle cx="1897.7" cy="810.9" r="8.8"/>
<circle cx="1861.0" cy="837.2" r="8.8"/>
<circle cx="1879.3" cy="852.1" r="8.8"/>
<circle cx="1897.7" cy="848.9" r="8.8"/>
<circle cx="1916.6" cy="848.3" r="8.8"/>
<circle cx="1869.8" cy="908.6" r="8.8"/>
<circle cx="1888.2" cy="902.7" r="8.8"/>
<circle cx="1906.7" cy="909.9" r="8.8"/>
<circle cx="1925.3" cy="904.5" r="8.8"/>
<circle cx="1962.6" cy="934.6" r="8.8"/>
<circle cx="1916.6" cy="955.0" r="8.8"/>
<circle cx="1897.7" cy="961.8" r="8.8"/>
<circle cx="1879.3" cy="969.0" r="8.8"/>
<circle cx="1861.0" cy="993.6" r="8.8"/>
<circle cx="1879.3" cy="989.3" r="8.8"/>
<circle cx="1897.7" cy="1001.6" r="8.8"/>
<circle cx="1916.6" cy="997.3" r="8.8"/>
<circle cx="1935.4" cy="989.6" r="8.8"/>
<circle cx="1879.3" cy="1012.9" r="8.8"/>
<circle cx="1916.6" cy="1020.1" r="8.8"/>
<circle cx="1897.7" cy="1039.3" r="8.8"/>
<circle cx="1897.7" cy="1106.1" r="8.8"/>
</g>
</g>
<g id="panelF">
<text x="3.48" y="1273.00" font-size="44.3" textLength="27.60" lengthAdjust="spacingAndGlyphs" font-weight="bold">F</text>
<line x1="150.1" y1="1251.8" x2="150.1" y2="1720.5" stroke="#000" stroke-width="1.6"/>
<line x1="125.5" y1="1720.5" x2="616.7" y2="1720.5" stroke="#000" stroke-width="1.6"/>
<text x="75.78" y="1729.50" font-size="27.0" textLength="36.58" lengthAdjust="spacingAndGlyphs">0.0</text>
<line x1="125.5" y1="1603.5" x2="150.1" y2="1603.5" stroke="#000" stroke-width="1.6"/>
<text x="75.77" y="1612.53" font-size="27.0" textLength="37.01" lengthAdjust="spacingAndGlyphs">0.2</text>
<line x1="125.5" y1="1486.5" x2="150.1" y2="1486.5" stroke="#000" stroke-width="1.6"/>
<text x="75.78" y="1495.55" font-size="27.0" textLength="36.58" lengthAdjust="spacingAndGlyphs">0.4</text>
<line x1="125.5" y1="1369.6" x2="150.1" y2="1369.6" stroke="#000" stroke-width="1.6"/>
<text x="75.77" y="1378.57" font-size="27.0" textLength="37.01" lengthAdjust="spacingAndGlyphs">0.6</text>
<line x1="125.5" y1="1252.6" x2="150.1" y2="1252.6" stroke="#000" stroke-width="1.6"/>
<text x="75.77" y="1261.60" font-size="27.0" textLength="37.01" lengthAdjust="spacingAndGlyphs">0.8</text>
<line x1="242.3" y1="1720.5" x2="242.3" y2="1744.6" stroke="#000" stroke-width="1.6"/>
<line x1="382.4" y1="1720.5" x2="382.4" y2="1744.6" stroke="#000" stroke-width="1.6"/>
<line x1="522.5" y1="1720.5" x2="522.5" y2="1744.6" stroke="#000" stroke-width="1.6"/>
<text x="215.79" y="1784.50" font-size="30.0" textLength="72.06" lengthAdjust="spacingAndGlyphs">Col-0</text>
<text x="320.34" y="1784.50" font-size="30.0" textLength="119.38" lengthAdjust="spacingAndGlyphs">H3.1 WT</text>
<text x="461.90" y="1784.50" font-size="30.0" textLength="145.17" lengthAdjust="spacingAndGlyphs">H3.1K27M</text>
<text x="58.20" y="1655.77" transform="rotate(-90 58.20 1655.77)" font-size="34.3" textLength="283.32" lengthAdjust="spacingAndGlyphs">Relative root length</text>
<path d="M242.3 1346.9L242.3 1309.4L369.8 1309.4L369.8 1346.9" fill="none" stroke="#000" stroke-width="1.6"/>
<path d="M394.7 1346.9L394.7 1309.4L522.5 1309.4L522.5 1346.9" fill="none" stroke="#000" stroke-width="1.6"/>
<text x="288.37" y="1302.60" font-size="25.0" textLength="27.55" lengthAdjust="spacingAndGlyphs">ns</text>
<text x="420.12" y="1302.60" font-size="25.0" textLength="89.61" lengthAdjust="spacingAndGlyphs">2.9 x 10</text>
<text x="509.97" y="1293.60" font-size="15.5" textLength="12.18" lengthAdjust="spacingAndGlyphs">-7</text>
<g fill="#5b8dcb" fill-opacity="0.6" stroke="#6e6e6e" stroke-opacity="0.8" stroke-width="1.0">
<circle cx="242.3" cy="1383.6" r="9.3"/>
<circle cx="242.3" cy="1417.7" r="9.3"/>
<circle cx="248.3" cy="1443.8" r="9.3"/>
<circle cx="235.7" cy="1451.4" r="9.3"/>
<circle cx="254.9" cy="1470.2" r="9.3"/>
<circle cx="280.2" cy="1472.3" r="9.3"/>
<circle cx="217.2" cy="1479.1" r="9.3"/>
<circle cx="267.6" cy="1479.7" r="9.3"/>
<circle cx="205.2" cy="1484.9" r="9.3"/>
<circle cx="242.3" cy="1485.4" r="9.3"/>
<circle cx="229.8" cy="1489.9" r="9.3"/>
<circle cx="254.9" cy="1489.9" r="9.3"/>
<circle cx="229.8" cy="1508.7" r="9.3"/>
<circle cx="254.9" cy="1516.3" r="9.3"/>
<circle cx="242.3" cy="1519.5" r="9.3"/>
<circle cx="242.3" cy="1540.1" r="9.3"/>
<circle cx="242.3" cy="1564.1" r="9.3"/>
<circle cx="242.3" cy="1638.9" r="9.3"/>
</g>
<line x1="195.9" y1="1490.4" x2="288.6" y2="1490.4" stroke="#000" stroke-width="1.7"/>
<line x1="218.7" y1="1477.9" x2="266.2" y2="1477.9" stroke="#000" stroke-width="1.7"/>
<line x1="218.7" y1="1504.2" x2="266.2" y2="1504.2" stroke="#000" stroke-width="1.7"/>
<line x1="242.3" y1="1477.9" x2="242.3" y2="1504.2" stroke="#000" stroke-width="1.7"/>
<g fill="#e2d8c5" fill-opacity="1" stroke="#7a7a7a" stroke-opacity="1" stroke-width="1.0">
<circle cx="394.9" cy="1405.7" r="9.3"/>
<circle cx="369.8" cy="1424.1" r="9.3"/>
<circle cx="381.8" cy="1449.6" r="9.3"/>
<circle cx="369.8" cy="1472.9" r="9.3"/>
<circle cx="394.9" cy="1477.9" r="9.3"/>
<circle cx="419.8" cy="1480.6" r="9.3"/>
<circle cx="345.5" cy="1491.2" r="9.3"/>
<circle cx="369.8" cy="1502.1" r="9.3"/>
<circle cx="394.9" cy="1502.1" r="9.3"/>
<circle cx="419.8" cy="1506.9" r="9.3"/>
<circle cx="345.5" cy="1519.1" r="9.3"/>
<circle cx="369.8" cy="1522.2" r="9.3"/>
<circle cx="394.9" cy="1522.2" r="9.3"/>
<circle cx="419.8" cy="1534.7" r="9.3"/>
<circle cx="345.5" cy="1540.1" r="9.3"/>
<circle cx="394.9" cy="1545.5" r="9.3"/>
<circle cx="381.8" cy="1576.7" r="9.3"/>
<circle cx="381.8" cy="1604.8" r="9.3"/>
</g>
<g opacity="0.85">
<line x1="336.1" y1="1504.2" x2="428.8" y2="1504.2" stroke="#000" stroke-width="1.7"/>
<line x1="358.9" y1="1493.0" x2="406.0" y2="1493.0" stroke="#000" stroke-width="1.7"/>
<line x1="358.9" y1="1516.2" x2="406.0" y2="1516.2" stroke="#000" stroke-width="1.7"/>
<line x1="382.4" y1="1493.0" x2="382.4" y2="1516.2" stroke="#000" stroke-width="1.7"/>
</g>
<line x1="476.3" y1="1620.6" x2="568.6" y2="1620.6" stroke="#000" stroke-width="1.7"/>
<line x1="499.2" y1="1605.7" x2="545.8" y2="1605.7" stroke="#000" stroke-width="1.7"/>
<line x1="499.2" y1="1634.4" x2="545.8" y2="1634.4" stroke="#000" stroke-width="1.7"/>
<line x1="522.5" y1="1605.7" x2="522.5" y2="1634.4" stroke="#000" stroke-width="1.7"/>
<g fill="#eae6e0" fill-opacity="1" stroke="#000" stroke-opacity="1" stroke-width="1.5">
<circle cx="522.2" cy="1429.3" r="8.9"/>
<circle cx="500.1" cy="1567.7" r="8.9"/>
<circle cx="529.7" cy="1567.7" r="8.9"/>
<circle cx="545.0" cy="1567.7" r="8.9"/>
<circle cx="515.0" cy="1582.9" r="8.9"/>
<circle cx="529.7" cy="1620.9" r="8.9"/>
<circle cx="515.0" cy="1620.6" r="8.9"/>
<circle cx="499.8" cy="1629.0" r="8.9"/>
<circle cx="544.6" cy="1629.0" r="8.9"/>
<circle cx="485.3" cy="1636.2" r="8.9"/>
<circle cx="559.8" cy="1636.2" r="8.9"/>
<circle cx="529.7" cy="1644.2" r="8.9"/>
<circle cx="500.1" cy="1652.0" r="8.9"/>
<circle cx="544.6" cy="1652.0" r="8.9"/>
<circle cx="529.7" cy="1667.2" r="8.9"/>
<circle cx="515.0" cy="1674.7" r="8.9"/>
<circle cx="529.7" cy="1690.5" r="8.9"/>
<circle cx="515.0" cy="1698.0" r="8.9"/>
</g>
</g>
<g id="panelG">
<text x="639.22" y="1271.00" font-size="44.3" textLength="34.39" lengthAdjust="spacingAndGlyphs" font-weight="bold">G</text>
<defs>
<clipPath id="clipG"><rect x="701.3" y="1277.3" width="752.0" height="470.3"/></clipPath>
<filter id="fFelt" x="0" y="0" width="100%" height="100%" color-interpolation-filters="sRGB"><feTurbulence type="fractalNoise" baseFrequency="0.42" numOctaves="4" seed="17"/><feColorMatrix type="matrix" values="0 0 0 0 0.48  0 0 0 0 0.48  0 0 0 0 0.48  0 3.0 0 0 -1.25"/><feGaussianBlur stdDeviation="0.5"/></filter>
<filter id="fCloud" x="0" y="0" width="100%" height="100%" color-interpolation-filters="sRGB"><feTurbulence type="fractalNoise" baseFrequency="0.011 0.016" numOctaves="3" seed="41"/><feColorMatrix type="matrix" values="0 0 0 0 1  0 0 0 0 1  0 0 0 0 1  0 0 1.6 0 -0.62"/></filter>
<filter id="fFelt2" x="0" y="0" width="100%" height="100%" color-interpolation-filters="sRGB"><feTurbulence type="fractalNoise" baseFrequency="0.7" numOctaves="1" seed="31"/><feColorMatrix type="matrix" values="0 0 0 0 0.9  0 0 0 0 0.9  0 0 0 0 0.9  0 0 9 0 -6.1"/></filter>
<radialGradient id="gGlight" cx="0.86" cy="0.56" r="0.85"><stop offset="0" stop-color="#212121"/><stop offset="0.2" stop-color="#191919"/><stop offset="0.45" stop-color="#0f0f0f"/><stop offset="1" stop-color="#090909"/></radialGradient>
<filter id="fPl" x="-5%" y="-5%" width="110%" height="110%"><feGaussianBlur stdDeviation="0.6"/></filter>
</defs>
<g clip-path="url(#clipG)">
<rect x="701.3" y="1277.3" width="752.0" height="470.3" fill="url(#gGlight)"/>
<rect x="701.3" y="1277.3" width="752.0" height="470.3" filter="url(#fCloud)" opacity="0.07"/>
<rect x="701.3" y="1277.3" width="752.0" height="470.3" filter="url(#fFelt)" opacity="0.34"/>
<rect x="701.3" y="1277.3" width="752.0" height="470.3" filter="url(#fFelt2)" opacity="0.4"/>
<rect x="701.3" y="1277.3" width="752.0" height="3" fill="#000" opacity="0.6"/>
<g filter="url(#fPl)">
<path d="M807.2 1396.8L822.5 1371.6" fill="none" stroke="#e6ebf2" stroke-width="2.6" stroke-linecap="round" stroke-linejoin="round"/>
<path d="M807.2 1396.8L827.6 1363.4" stroke="#d3dbe8" stroke-width="4.2" stroke-linecap="round" fill="none" stroke-dasharray="0 16.2 200"/>
<path d="M807.2 1396.8L834.9 1386.6" fill="none" stroke="#e6ebf2" stroke-width="2.6" stroke-linecap="round" stroke-linejoin="round"/>
<path d="M807.2 1396.8L848.0 1383.8" stroke="#d3dbe8" stroke-width="5.3" stroke-linecap="round" fill="none" stroke-dasharray="0 16.3 200"/>
<path d="M807.2 1396.8L803.7 1382.9" fill="none" stroke="#e6ebf2" stroke-width="2.6" stroke-linecap="round" stroke-linejoin="round"/>
<path d="M807.2 1396.8L802.5 1376.4" stroke="#d3dbe8" stroke-width="3.3" stroke-linecap="round" fill="none" stroke-dasharray="0 7.8 200"/>
<path d="M807.2 1396.8L776.6 1392.0" fill="none" stroke="#e6ebf2" stroke-width="2.6" stroke-linecap="round" stroke-linejoin="round"/>
<path d="M807.2 1396.8L762.7 1394.0" stroke="#d3dbe8" stroke-width="4.2" stroke-linecap="round" fill="none" stroke-dasharray="0 17.0 200"/>
<path d="M807.2 1396.8L788.9 1413.0" fill="none" stroke="#e6ebf2" stroke-width="2.6" stroke-linecap="round" stroke-linejoin="round"/>
<path d="M807.2 1396.8L782.1 1422.7" stroke="#d3dbe8" stroke-width="3.9" stroke-linecap="round" fill="none" stroke-dasharray="0 13.4 200"/>
<path d="M807.2 1396.8L808.5 1428.2" fill="none" stroke="#e6ebf2" stroke-width="2.6" stroke-linecap="round" stroke-linejoin="round"/>
<path d="M807.2 1396.8L809.9 1438.5" stroke="#d3dbe8" stroke-width="5.6" stroke-linecap="round" fill="none" stroke-dasharray="0 17.3 200"/>
<path d="M807.2 1396.8L814.3 1395.0" fill="none" stroke="#e6ebf2" stroke-width="2.6" stroke-linecap="round" stroke-linejoin="round"/>
<path d="M807.2 1396.8L820.1 1394.0" stroke="#bcc7d8" stroke-width="2.4" stroke-linecap="round" fill="none" stroke-dasharray="0 4.0 200"/>
<path d="M807.2 1396.8L790.1 1394.0" fill="none" stroke="#e6ebf2" stroke-width="2.6" stroke-linecap="round" stroke-linejoin="round"/>
<path d="M807.2 1396.8L784.9 1394.0" stroke="#bcc7d8" stroke-width="2.4" stroke-linecap="round" fill="none" stroke-dasharray="0 9.5 200"/>
<path d="M-13.5 0C-12.4 -2.9 -6.8 -7.0 1.6 -7.0C9.2 -7.0 13.5 -4.1 13.5 0C13.5 4.1 9.2 7.0 1.6 7.0C-6.8 7.0 -12.4 2.9 -13.5 0Z" transform="translate(827.6 1363.4) rotate(-58)" fill="#d3dbe8"/>
<path d="M-18.7 0C-17.2 -3.8 -9.3 -9.0 2.2 -9.0C12.7 -9.0 18.7 -5.2 18.7 0C18.7 5.2 12.7 9.0 2.2 9.0C-9.3 9.0 -17.2 3.8 -18.7 0Z" transform="translate(848.0 1383.8) rotate(-12)" fill="#d3dbe8"/>
<path d="M-9.3 0C-8.6 -2.3 -4.7 -5.5 1.1 -5.5C6.4 -5.5 9.3 -3.2 9.3 0C9.3 3.2 6.4 5.5 1.1 5.5C-4.7 5.5 -8.6 2.3 -9.3 0Z" transform="translate(802.5 1376.4) rotate(-100)" fill="#d3dbe8"/>
<path d="M-19.7 0C-18.2 -2.9 -9.9 -7.0 2.4 -7.0C13.4 -7.0 19.7 -4.1 19.7 0C19.7 4.1 13.4 7.0 2.4 7.0C-9.9 7.0 -18.2 2.9 -19.7 0Z" transform="translate(762.7 1394.0) rotate(172)" fill="#d3dbe8"/>
<path d="M-16.6 0C-15.3 -2.7 -8.3 -6.5 2.0 -6.5C11.3 -6.5 16.6 -3.8 16.6 0C16.6 3.8 11.3 6.5 2.0 6.5C-8.3 6.5 -15.3 2.7 -16.6 0Z" transform="translate(782.1 1422.7) rotate(125)" fill="#d3dbe8"/>
<path d="M-14.5 0C-13.4 -4.0 -7.3 -9.5 1.7 -9.5C9.9 -9.5 14.5 -5.5 14.5 0C14.5 5.5 9.9 9.5 1.7 9.5C-7.3 9.5 -13.4 4.0 -14.5 0Z" transform="translate(809.9 1438.5) rotate(82)" fill="#d3dbe8"/>
<path d="M-8.3 0C-7.6 -1.7 -4.2 -4.0 1.0 -4.0C5.6 -4.0 8.3 -2.3 8.3 0C8.3 2.3 5.6 4.0 1.0 4.0C-4.2 4.0 -7.6 1.7 -8.3 0Z" transform="translate(820.1 1394.0) rotate(-10)" fill="#bcc7d8"/>
<path d="M-7.3 0C-6.7 -1.7 -3.6 -4.0 0.9 -4.0C4.9 -4.0 7.3 -2.3 7.3 0C7.3 2.3 4.9 4.0 0.9 4.0C-3.6 4.0 -6.7 1.7 -7.3 0Z" transform="translate(784.9 1394.0) rotate(180)" fill="#bcc7d8"/>
<circle cx="807.2" cy="1396.8" r="4" fill="#e6ebf2"/>
<path d="M1063.1 1383.8L1050.8 1377.9" fill="none" stroke="#e6ebf2" stroke-width="2.6" stroke-linecap="round" stroke-linejoin="round"/>
<path d="M1063.1 1383.8L1039.0 1373.6" stroke="#d3dbe8" stroke-width="4.2" stroke-linecap="round" fill="none" stroke-dasharray="0 7.5 200"/>
<path d="M1063.1 1383.8L1035.7 1398.4" fill="none" stroke="#e6ebf2" stroke-width="2.6" stroke-linecap="round" stroke-linejoin="round"/>
<path d="M1063.1 1383.8L1024.2 1405.1" stroke="#d3dbe8" stroke-width="4.2" stroke-linecap="round" fill="none" stroke-dasharray="0 17.1 200"/>
<path d="M1063.1 1383.8L1064.6 1430.7" fill="none" stroke="#e6ebf2" stroke-width="2.6" stroke-linecap="round" stroke-linejoin="round"/>
<path d="M1063.1 1383.8L1066.8 1443.1" stroke="#d3dbe8" stroke-width="7.7" stroke-linecap="round" fill="none" stroke-dasharray="0 25.8 200"/>
<path d="M1063.1 1383.8L1061.9 1400.5" fill="none" stroke="#e6ebf2" stroke-width="2.6" stroke-linecap="round" stroke-linejoin="round"/>
<path d="M1063.1 1383.8L1061.2 1407.9" stroke="#bcc7d8" stroke-width="3.6" stroke-linecap="round" fill="none" stroke-dasharray="0 9.2 200"/>
<path d="M-17.7 0C-16.2 -2.9 -8.8 -7.0 2.1 -7.0C12.0 -7.0 17.7 -4.1 17.7 0C17.7 4.1 12.0 7.0 2.1 7.0C-8.8 7.0 -16.2 2.9 -17.7 0Z" transform="translate(1039.0 1373.6) rotate(200)" fill="#d3dbe8"/>
<path d="M-18.7 0C-17.2 -2.9 -9.3 -7.0 2.2 -7.0C12.7 -7.0 18.7 -4.1 18.7 0C18.7 4.1 12.7 7.0 2.2 7.0C-9.3 7.0 -17.2 2.9 -18.7 0Z" transform="translate(1024.2 1405.1) rotate(150)" fill="#d3dbe8"/>
<path d="M-17.7 0C-16.2 -5.5 -8.8 -13.0 2.1 -13.0C12.0 -13.0 17.7 -7.6 17.7 0C17.7 7.6 12.0 13.0 2.1 13.0C-8.8 13.0 -16.2 5.5 -17.7 0Z" transform="translate(1066.8 1443.1) rotate(80)" fill="#d3dbe8"/>
<path d="M-10.4 0C-9.6 -2.5 -5.2 -6.0 1.2 -6.0C7.1 -6.0 10.4 -3.5 10.4 0C10.4 3.5 7.1 6.0 1.2 6.0C-5.2 6.0 -9.6 2.5 -10.4 0Z" transform="translate(1061.2 1407.9) rotate(95)" fill="#bcc7d8"/>
<path d="M1063.1 1383.8L1080.0 1381.9L1102.3 1373.6L1113.4 1365.2" fill="none" stroke="#e6ebf2" stroke-width="2.6" stroke-linecap="round" stroke-linejoin="round"/>
<path d="M-15.8 0C-14.5 -4.3 -7.9 -10.2 1.9 -10.2C10.7 -10.2 15.8 -5.9 15.8 0C15.8 5.9 10.7 10.2 1.9 10.2C-7.9 10.2 -14.5 4.3 -15.8 0Z" transform="translate(1123.6 1357.8) rotate(-50)" fill="#d3dbe8"/>
<circle cx="1063.1" cy="1383.8" r="4" fill="#e6ebf2"/>
<path d="M1329.4 1397.7L1325.1 1382.3" fill="none" stroke="#e6ebf2" stroke-width="3.0" stroke-linecap="round" stroke-linejoin="round"/>
<path d="M1329.4 1397.7L1323.0 1369.9" stroke="#d3dbe8" stroke-width="6.5" stroke-linecap="round" fill="none" stroke-dasharray="0 8.8 200"/>
<path d="M1329.4 1397.7L1379.4 1371.9" fill="none" stroke="#e6ebf2" stroke-width="3.0" stroke-linecap="round" stroke-linejoin="round"/>
<path d="M1329.4 1397.7L1391.6 1363.4" stroke="#d3dbe8" stroke-width="8.3" stroke-linecap="round" fill="none" stroke-dasharray="0 30.9 200"/>
<path d="M1329.4 1397.7L1297.0 1400.5" fill="none" stroke="#e6ebf2" stroke-width="3.0" stroke-linecap="round" stroke-linejoin="round"/>
<path d="M1329.4 1397.7L1285.9 1400.5" stroke="#d3dbe8" stroke-width="5.9" stroke-linecap="round" fill="none" stroke-dasharray="0 17.9 200"/>
<path d="M1329.4 1397.7L1345.9 1411.3" fill="none" stroke="#e6ebf2" stroke-width="3.0" stroke-linecap="round" stroke-linejoin="round"/>
<path d="M1329.4 1397.7L1358.2 1420.9" stroke="#d3dbe8" stroke-width="7.1" stroke-linecap="round" fill="none" stroke-dasharray="0 11.7 200"/>
<path d="M1329.4 1397.7L1316.3 1441.5" fill="none" stroke="#e6ebf2" stroke-width="3.0" stroke-linecap="round" stroke-linejoin="round"/>
<path d="M1329.4 1397.7L1313.7 1456.1" stroke="#d3dbe8" stroke-width="9.5" stroke-linecap="round" fill="none" stroke-dasharray="0 25.2 200"/>
<path d="M1329.4 1397.7L1324.5 1414.0" fill="none" stroke="#e6ebf2" stroke-width="3.0" stroke-linecap="round" stroke-linejoin="round"/>
<path d="M1329.4 1397.7L1323.0 1422.7" stroke="#bcc7d8" stroke-width="5.3" stroke-linecap="round" fill="none" stroke-dasharray="0 9.4 200"/>
<path d="M-17.7 0C-16.2 -4.6 -8.8 -11.0 2.1 -11.0C12.0 -11.0 17.7 -6.4 17.7 0C17.7 6.4 12.0 11.0 2.1 11.0C-8.8 11.0 -16.2 4.6 -17.7 0Z" transform="translate(1323.0 1369.9) rotate(-100)" fill="#d3dbe8"/>
<path d="M-20.8 0C-19.1 -5.9 -10.4 -14.0 2.5 -14.0C14.1 -14.0 20.8 -8.1 20.8 0C20.8 8.1 14.1 14.0 2.5 14.0C-10.4 14.0 -19.1 5.9 -20.8 0Z" transform="translate(1391.6 1363.4) rotate(-35)" fill="#d3dbe8"/>
<path d="M-15.6 0C-14.3 -4.2 -7.8 -10.0 1.9 -10.0C10.6 -10.0 15.6 -5.8 15.6 0C15.6 5.8 10.6 10.0 1.9 10.0C-7.8 10.0 -14.3 4.2 -15.6 0Z" transform="translate(1285.9 1400.5) rotate(180)" fill="#d3dbe8"/>
<path d="M-21.8 0C-20.1 -5.0 -10.9 -12.0 2.6 -12.0C14.8 -12.0 21.8 -7.0 21.8 0C21.8 7.0 14.8 12.0 2.6 12.0C-10.9 12.0 -20.1 5.0 -21.8 0Z" transform="translate(1358.2 1420.9) rotate(38)" fill="#d3dbe8"/>
<path d="M-20.8 0C-19.1 -6.7 -10.4 -16.0 2.5 -16.0C14.1 -16.0 20.8 -9.3 20.8 0C20.8 9.3 14.1 16.0 2.5 16.0C-10.4 16.0 -19.1 6.7 -20.8 0Z" transform="translate(1313.7 1456.1) rotate(100)" fill="#d3dbe8"/>
<path d="M-12.5 0C-11.5 -3.8 -6.2 -9.0 1.5 -9.0C8.5 -9.0 12.5 -5.2 12.5 0C12.5 5.2 8.5 9.0 1.5 9.0C-6.2 9.0 -11.5 3.8 -12.5 0Z" transform="translate(1323.0 1422.7) rotate(100)" fill="#bcc7d8"/>
<circle cx="1329.4" cy="1397.7" r="5.5" fill="#e6ebf2"/>
<path d="M821.1 1648.4L814.1 1633.4" fill="none" stroke="#4a9be0" stroke-width="3.0" stroke-linecap="round" stroke-linejoin="round"/>
<path d="M821.1 1648.4L811.8 1627.1" stroke="#2f7fd6" stroke-width="3.9" stroke-linecap="round" fill="none" stroke-dasharray="0 9.1 200"/>
<path d="M821.1 1648.4L814.0 1646.6" fill="none" stroke="#4a9be0" stroke-width="3.0" stroke-linecap="round" stroke-linejoin="round"/>
<path d="M821.1 1648.4L808.1 1646.6" stroke="#3b86d8" stroke-width="4.2" stroke-linecap="round" fill="none" stroke-dasharray="0 4.0 200"/>
<path d="M821.1 1648.4L834.2 1647.5" fill="none" stroke="#4a9be0" stroke-width="3.0" stroke-linecap="round" stroke-linejoin="round"/>
<path d="M821.1 1648.4L842.4 1647.5" stroke="#5aa5e0" stroke-width="5.0" stroke-linecap="round" fill="none" stroke-dasharray="0 7.3 200"/>
<path d="M821.1 1648.4L836.5 1674.0" fill="none" stroke="#4a9be0" stroke-width="3.0" stroke-linecap="round" stroke-linejoin="round"/>
<path d="M821.1 1648.4L840.5 1682.7" stroke="#4a9be0" stroke-width="5.6" stroke-linecap="round" fill="none" stroke-dasharray="0 16.4 200"/>
<path d="M821.1 1648.4L815.6 1656.2" fill="none" stroke="#4a9be0" stroke-width="3.0" stroke-linecap="round" stroke-linejoin="round"/>
<path d="M821.1 1648.4L812.7 1658.6" stroke="#a9c4d8" stroke-width="2.4" stroke-linecap="round" fill="none" stroke-dasharray="0 5.3 200"/>
<path d="M-9.3 0C-8.6 -2.7 -4.7 -6.5 1.1 -6.5C6.4 -6.5 9.3 -3.8 9.3 0C9.3 3.8 6.4 6.5 1.1 6.5C-4.7 6.5 -8.6 2.7 -9.3 0Z" transform="translate(811.8 1627.1) rotate(-110)" fill="#2f7fd6"/>
<path d="M-8.3 0C-7.6 -2.9 -4.2 -7.0 1.0 -7.0C5.6 -7.0 8.3 -4.1 8.3 0C8.3 4.1 5.6 7.0 1.0 7.0C-4.2 7.0 -7.6 2.9 -8.3 0Z" transform="translate(808.1 1646.6) rotate(180)" fill="#3b86d8"/>
<path d="M-11.4 0C-10.5 -3.6 -5.7 -8.5 1.4 -8.5C7.8 -8.5 11.4 -4.9 11.4 0C11.4 4.9 7.8 8.5 1.4 8.5C-5.7 8.5 -10.5 3.6 -11.4 0Z" transform="translate(842.4 1647.5) rotate(0)" fill="#5aa5e0"/>
<path d="M-13.5 0C-12.4 -4.0 -6.8 -9.5 1.6 -9.5C9.2 -9.5 13.5 -5.5 13.5 0C13.5 5.5 9.2 9.5 1.6 9.5C-6.8 9.5 -12.4 4.0 -13.5 0Z" transform="translate(840.5 1682.7) rotate(65)" fill="#4a9be0"/>
<path d="M-5.2 0C-4.8 -1.7 -2.6 -4.0 0.6 -4.0C3.5 -4.0 5.2 -2.3 5.2 0C5.2 2.3 3.5 4.0 0.6 4.0C-2.6 4.0 -4.8 1.7 -5.2 0Z" transform="translate(812.7 1658.6) rotate(140)" fill="#a9c4d8"/>
<circle cx="821.1" cy="1648.4" r="4.5" fill="#62aee6"/>
<path d="M1052.0 1654.9L1050.0 1636.7" fill="none" stroke="#6fb0e0" stroke-width="2.4" stroke-linecap="round" stroke-linejoin="round"/>
<path d="M1052.0 1654.9L1049.2 1627.1" stroke="#2a6cc0" stroke-width="3.9" stroke-linecap="round" fill="none" stroke-dasharray="0 10.1 200"/>
<path d="M1052.0 1654.9L1060.7 1649.9" fill="none" stroke="#6fb0e0" stroke-width="2.4" stroke-linecap="round" stroke-linejoin="round"/>
<path d="M1052.0 1654.9L1066.8 1645.6" stroke="#9cc6e4" stroke-width="4.5" stroke-linecap="round" fill="none" stroke-dasharray="0 5.6 200"/>
<path d="M1052.0 1654.9L1044.3 1657.1" fill="none" stroke="#6fb0e0" stroke-width="2.4" stroke-linecap="round" stroke-linejoin="round"/>
<path d="M1052.0 1654.9L1038.1 1662.3" stroke="#5f9ed8" stroke-width="4.2" stroke-linecap="round" fill="none" stroke-dasharray="0 4.4 200"/>
<path d="M1052.0 1654.9L1063.2 1669.3" fill="none" stroke="#6fb0e0" stroke-width="2.4" stroke-linecap="round" stroke-linejoin="round"/>
<path d="M1052.0 1654.9L1070.5 1674.4" stroke="#2f7fd6" stroke-width="3.6" stroke-linecap="round" fill="none" stroke-dasharray="0 10.0 200"/>
<path d="M-13.5 0C-12.4 -2.7 -6.8 -6.5 1.6 -6.5C9.2 -6.5 13.5 -3.8 13.5 0C13.5 3.8 9.2 6.5 1.6 6.5C-6.8 6.5 -12.4 2.7 -13.5 0Z" transform="translate(1049.2 1627.1) rotate(-95)" fill="#2a6cc0"/>
<path d="M-10.4 0C-9.6 -3.2 -5.2 -7.5 1.2 -7.5C7.1 -7.5 10.4 -4.4 10.4 0C10.4 4.4 7.1 7.5 1.2 7.5C-5.2 7.5 -9.6 3.2 -10.4 0Z" transform="translate(1066.8 1645.6) rotate(-35)" fill="#9cc6e4"/>
<path d="M-11.4 0C-10.5 -2.9 -5.7 -7.0 1.4 -7.0C7.8 -7.0 11.4 -4.1 11.4 0C11.4 4.1 7.8 7.0 1.4 7.0C-5.7 7.0 -10.5 2.9 -11.4 0Z" transform="translate(1038.1 1662.3) rotate(140)" fill="#5f9ed8"/>
<path d="M-12.5 0C-11.5 -2.5 -6.2 -6.0 1.5 -6.0C8.5 -6.0 12.5 -3.5 12.5 0C12.5 3.5 8.5 6.0 1.5 6.0C-6.2 6.0 -11.5 2.5 -12.5 0Z" transform="translate(1070.5 1674.4) rotate(35)" fill="#2f7fd6"/>
<path d="M1334.1 1638.2L1328.5 1628.4" fill="none" stroke="#5aa8e4" stroke-width="2.2" stroke-linecap="round" stroke-linejoin="round"/>
<path d="M1334.1 1638.2L1326.7 1625.2" stroke="#2a6cc0" stroke-width="3.0" stroke-linecap="round" fill="none" stroke-dasharray="0 6.2 200"/>
<path d="M1334.1 1638.2L1348.3 1635.0" fill="none" stroke="#5aa8e4" stroke-width="2.2" stroke-linecap="round" stroke-linejoin="round"/>
<path d="M1334.1 1638.2L1356.3 1633.6" stroke="#2f7fd6" stroke-width="3.3" stroke-linecap="round" fill="none" stroke-dasharray="0 8.0 200"/>
<path d="M1334.1 1638.2L1320.3 1651.3" fill="none" stroke="#5aa8e4" stroke-width="2.2" stroke-linecap="round" stroke-linejoin="round"/>
<path d="M1334.1 1638.2L1316.5 1656.8" stroke="#2f7fd6" stroke-width="2.4" stroke-linecap="round" fill="none" stroke-dasharray="0 10.5 200"/>
<path d="M1334.1 1638.2L1340.4 1649.3" fill="none" stroke="#5aa8e4" stroke-width="2.2" stroke-linecap="round" stroke-linejoin="round"/>
<path d="M1334.1 1638.2L1342.4 1654.9" stroke="#bcd8ea" stroke-width="3.3" stroke-linecap="round" fill="none" stroke-dasharray="0 7.0 200"/>
<path d="M-5.2 0C-4.8 -2.1 -2.6 -5.0 0.6 -5.0C3.5 -5.0 5.2 -2.9 5.2 0C5.2 2.9 3.5 5.0 0.6 5.0C-2.6 5.0 -4.8 2.1 -5.2 0Z" transform="translate(1326.7 1625.2) rotate(-120)" fill="#2a6cc0"/>
<path d="M-11.4 0C-10.5 -2.3 -5.7 -5.5 1.4 -5.5C7.8 -5.5 11.4 -3.2 11.4 0C11.4 3.2 7.8 5.5 1.4 5.5C-5.7 5.5 -10.5 2.3 -11.4 0Z" transform="translate(1356.3 1633.6) rotate(-10)" fill="#2f7fd6"/>
<path d="M-9.3 0C-8.6 -1.7 -4.7 -4.0 1.1 -4.0C6.4 -4.0 9.3 -2.3 9.3 0C9.3 2.3 6.4 4.0 1.1 4.0C-4.7 4.0 -8.6 1.7 -9.3 0Z" transform="translate(1316.5 1656.8) rotate(125)" fill="#2f7fd6"/>
<path d="M-8.3 0C-7.6 -2.3 -4.2 -5.5 1.0 -5.5C5.6 -5.5 8.3 -3.2 8.3 0C8.3 3.2 5.6 5.5 1.0 5.5C-4.2 5.5 -7.6 2.3 -8.3 0Z" transform="translate(1342.4 1654.9) rotate(70)" fill="#bcd8ea"/>
</g>
<circle cx="849.4" cy="1386.2" r="1.6" fill="#fff" opacity="0.9"/><circle cx="853.3" cy="1386.2" r="1.7" fill="#fff" opacity="0.9"/><circle cx="842.3" cy="1383.4" r="1.7" fill="#fff" opacity="0.9"/><circle cx="849.8" cy="1387.8" r="0.9" fill="#fff" opacity="0.9"/><circle cx="809.6" cy="1436.0" r="1.3" fill="#fff" opacity="0.9"/><circle cx="810.8" cy="1433.6" r="1.0" fill="#fff" opacity="0.9"/><circle cx="807.3" cy="1442.7" r="1.6" fill="#fff" opacity="0.9"/><circle cx="805.9" cy="1441.5" r="0.9" fill="#fff" opacity="0.9"/><circle cx="764.1" cy="1390.3" r="0.8" fill="#fff" opacity="0.9"/><circle cx="767.1" cy="1391.1" r="1.0" fill="#fff" opacity="0.9"/><circle cx="768.4" cy="1397.7" r="1.1" fill="#fff" opacity="0.9"/><circle cx="768.2" cy="1394.4" r="1.5" fill="#fff" opacity="0.9"/><circle cx="1120.0" cy="1362.2" r="1.5" fill="#fff" opacity="0.9"/><circle cx="1129.2" cy="1361.8" r="1.1" fill="#fff" opacity="0.9"/><circle cx="1121.9" cy="1354.5" r="0.9" fill="#fff" opacity="0.9"/><circle cx="1118.4" cy="1355.8" r="1.4" fill="#fff" opacity="0.9"/><circle cx="1385.6" cy="1365.2" r="1.1" fill="#fff" opacity="0.9"/><circle cx="1389.3" cy="1366.6" r="1.3" fill="#fff" opacity="0.9"/><circle cx="1389.4" cy="1363.2" r="1.5" fill="#fff" opacity="0.9"/><circle cx="1386.3" cy="1368.1" r="0.8" fill="#fff" opacity="0.9"/><circle cx="1316.7" cy="1459.6" r="0.8" fill="#fff" opacity="0.9"/><circle cx="1317.1" cy="1454.8" r="1.4" fill="#fff" opacity="0.9"/><circle cx="1307.8" cy="1451.6" r="1.0" fill="#fff" opacity="0.9"/><circle cx="1319.1" cy="1453.1" r="1.6" fill="#fff" opacity="0.9"/><circle cx="1363.3" cy="1425.3" r="1.1" fill="#fff" opacity="0.9"/><circle cx="1356.4" cy="1421.1" r="1.6" fill="#fff" opacity="0.9"/><circle cx="1353.5" cy="1423.4" r="1.6" fill="#fff" opacity="0.9"/><circle cx="1362.5" cy="1416.2" r="1.7" fill="#fff" opacity="0.9"/><circle cx="1318.0" cy="1368.3" r="1.4" fill="#fff" opacity="0.9"/><circle cx="1328.0" cy="1368.3" r="1.7" fill="#fff" opacity="0.9"/><circle cx="1323.5" cy="1368.0" r="1.1" fill="#fff" opacity="0.9"/><circle cx="1319.1" cy="1365.7" r="0.9" fill="#fff" opacity="0.9"/><circle cx="1069.1" cy="1448.1" r="1.0" fill="#fff" opacity="0.9"/><circle cx="1061.4" cy="1448.0" r="1.3" fill="#fff" opacity="0.9"/><circle cx="1065.7" cy="1440.5" r="1.4" fill="#fff" opacity="0.9"/><circle cx="1070.7" cy="1442.7" r="1.2" fill="#fff" opacity="0.9"/><circle cx="1280.5" cy="1404.6" r="0.8" fill="#fff" opacity="0.9"/><circle cx="1285.8" cy="1403.9" r="0.9" fill="#fff" opacity="0.9"/><circle cx="1288.6" cy="1405.0" r="1.4" fill="#fff" opacity="0.9"/><circle cx="1289.3" cy="1396.5" r="1.2" fill="#fff" opacity="0.9"/>
</g>
<text x="726.70" y="1318.60" font-size="31" textLength="120.15" lengthAdjust="spacingAndGlyphs" font-weight="bold" fill="#fff">H3.1 WT</text>
<text x="718.87" y="1562.70" font-size="31" textLength="147.22" lengthAdjust="spacingAndGlyphs" font-weight="bold" fill="#fff">H3.1K27M</text>
<text x="1364.65" y="1708.90" font-size="25" textLength="60.16" lengthAdjust="spacingAndGlyphs" font-weight="bold" fill="#fff">1 cm</text>
<rect x="1364.1" y="1717.6" width="65.3" height="8.4" fill="#fff"/>
</g>
<g id="panelH">
<text x="1494.27" y="1272.70" font-size="44.3" textLength="31.50" lengthAdjust="spacingAndGlyphs" font-weight="bold">H</text>
<line x1="1603.1" y1="1260.9" x2="1603.1" y2="1723.0" stroke="#000" stroke-width="1.6"/>
<line x1="1603.1" y1="1722.3" x2="2049.0" y2="1722.3" stroke="#000" stroke-width="1.6"/>
<line x1="1577.5" y1="1702.0" x2="1603.1" y2="1702.0" stroke="#000" stroke-width="1.6"/>
<text x="1557.76" y="1715.30" font-size="27.0" textLength="14.90" lengthAdjust="spacingAndGlyphs">0</text>
<line x1="1577.5" y1="1596.8" x2="1603.1" y2="1596.8" stroke="#000" stroke-width="1.6"/>
<text x="1539.86" y="1610.05" font-size="27.0" textLength="27.35" lengthAdjust="spacingAndGlyphs">10</text>
<line x1="1577.5" y1="1491.5" x2="1603.1" y2="1491.5" stroke="#000" stroke-width="1.6"/>
<text x="1538.28" y="1504.80" font-size="27.0" textLength="28.97" lengthAdjust="spacingAndGlyphs">20</text>
<line x1="1577.5" y1="1386.2" x2="1603.1" y2="1386.2" stroke="#000" stroke-width="1.6"/>
<text x="1538.70" y="1399.55" font-size="27.0" textLength="28.54" lengthAdjust="spacingAndGlyphs">30</text>
<line x1="1577.5" y1="1281.0" x2="1603.1" y2="1281.0" stroke="#000" stroke-width="1.6"/>
<text x="1539.10" y="1294.30" font-size="27.0" textLength="28.12" lengthAdjust="spacingAndGlyphs">40</text>
<line x1="1685.4" y1="1722.3" x2="1685.4" y2="1747.9" stroke="#000" stroke-width="1.6"/>
<line x1="1823.8" y1="1722.3" x2="1823.8" y2="1747.9" stroke="#000" stroke-width="1.6"/>
<line x1="1961.6" y1="1722.3" x2="1961.6" y2="1747.9" stroke="#000" stroke-width="1.6"/>
<text x="1656.90" y="1784.30" font-size="30.0" textLength="71.14" lengthAdjust="spacingAndGlyphs">Col-0</text>
<text x="1761.50" y="1784.30" font-size="30.0" textLength="121.02" lengthAdjust="spacingAndGlyphs">H3.1 WT</text>
<text x="1901.89" y="1784.30" font-size="30.0" textLength="145.79" lengthAdjust="spacingAndGlyphs">H3.1K27M</text>
<text x="1521.00" y="1547.93" transform="rotate(-90 1521.00 1547.93)" font-size="34.3" textLength="71.51" lengthAdjust="spacingAndGlyphs">TPM</text>
<path d="M1684.6 1483.4L1684.6 1446.5L1824.8 1446.5L1824.8 1483.4" fill="none" stroke="#000" stroke-width="1.6"/>
<path d="M1685.6 1419.4L1685.6 1381.9L1960.8 1381.9L1960.8 1419.4" fill="none" stroke="#000" stroke-width="1.6"/>
<text x="1735.97" y="1441.00" font-size="25.0" textLength="25.90" lengthAdjust="spacingAndGlyphs">ns</text>
<text x="1778.41" y="1375.60" font-size="25.0" textLength="88.10" lengthAdjust="spacingAndGlyphs">4.8 x 10</text>
<text x="1866.58" y="1365.70" font-size="15.5" textLength="11.97" lengthAdjust="spacingAndGlyphs">-8</text>
<line x1="1685.4" y1="1536.9" x2="1685.4" y2="1622.6" stroke="#2e58a6" stroke-width="4.7"/>
<line x1="1685.4" y1="1685.5" x2="1685.4" y2="1701.9" stroke="#2e58a6" stroke-width="4.7"/>
<rect x="1637.1" y="1622.6" width="96.8" height="62.8" fill="none" stroke="#2e58a6" stroke-width="4.7"/>
<rect x="1637.1" y="1656.1" width="96.8" height="9.3" fill="#2e58a6"/>
<line x1="1823.8" y1="1499.9" x2="1823.8" y2="1604.3" stroke="#b59b6c" stroke-width="4.7"/>
<line x1="1823.8" y1="1675.8" x2="1823.8" y2="1691.7" stroke="#b59b6c" stroke-width="4.7"/>
<rect x="1775.3" y="1604.3" width="96.8" height="71.4" fill="none" stroke="#b59b6c" stroke-width="4.7"/>
<rect x="1775.3" y="1644.3" width="96.8" height="9.5" fill="#b59b6c"/>
<line x1="1961.6" y1="1428.2" x2="1961.6" y2="1526.4" stroke="#b3b3b3" stroke-width="4.7"/>
<line x1="1961.6" y1="1648.2" x2="1961.6" y2="1691.7" stroke="#b3b3b3" stroke-width="4.7"/>
<rect x="1913.4" y="1526.4" width="96.8" height="121.8" fill="none" stroke="#b3b3b3" stroke-width="4.7"/>
<rect x="1913.4" y="1596.0" width="96.8" height="9.4" fill="#b3b3b3"/>
</g>
</svg>
</body>
</html>
